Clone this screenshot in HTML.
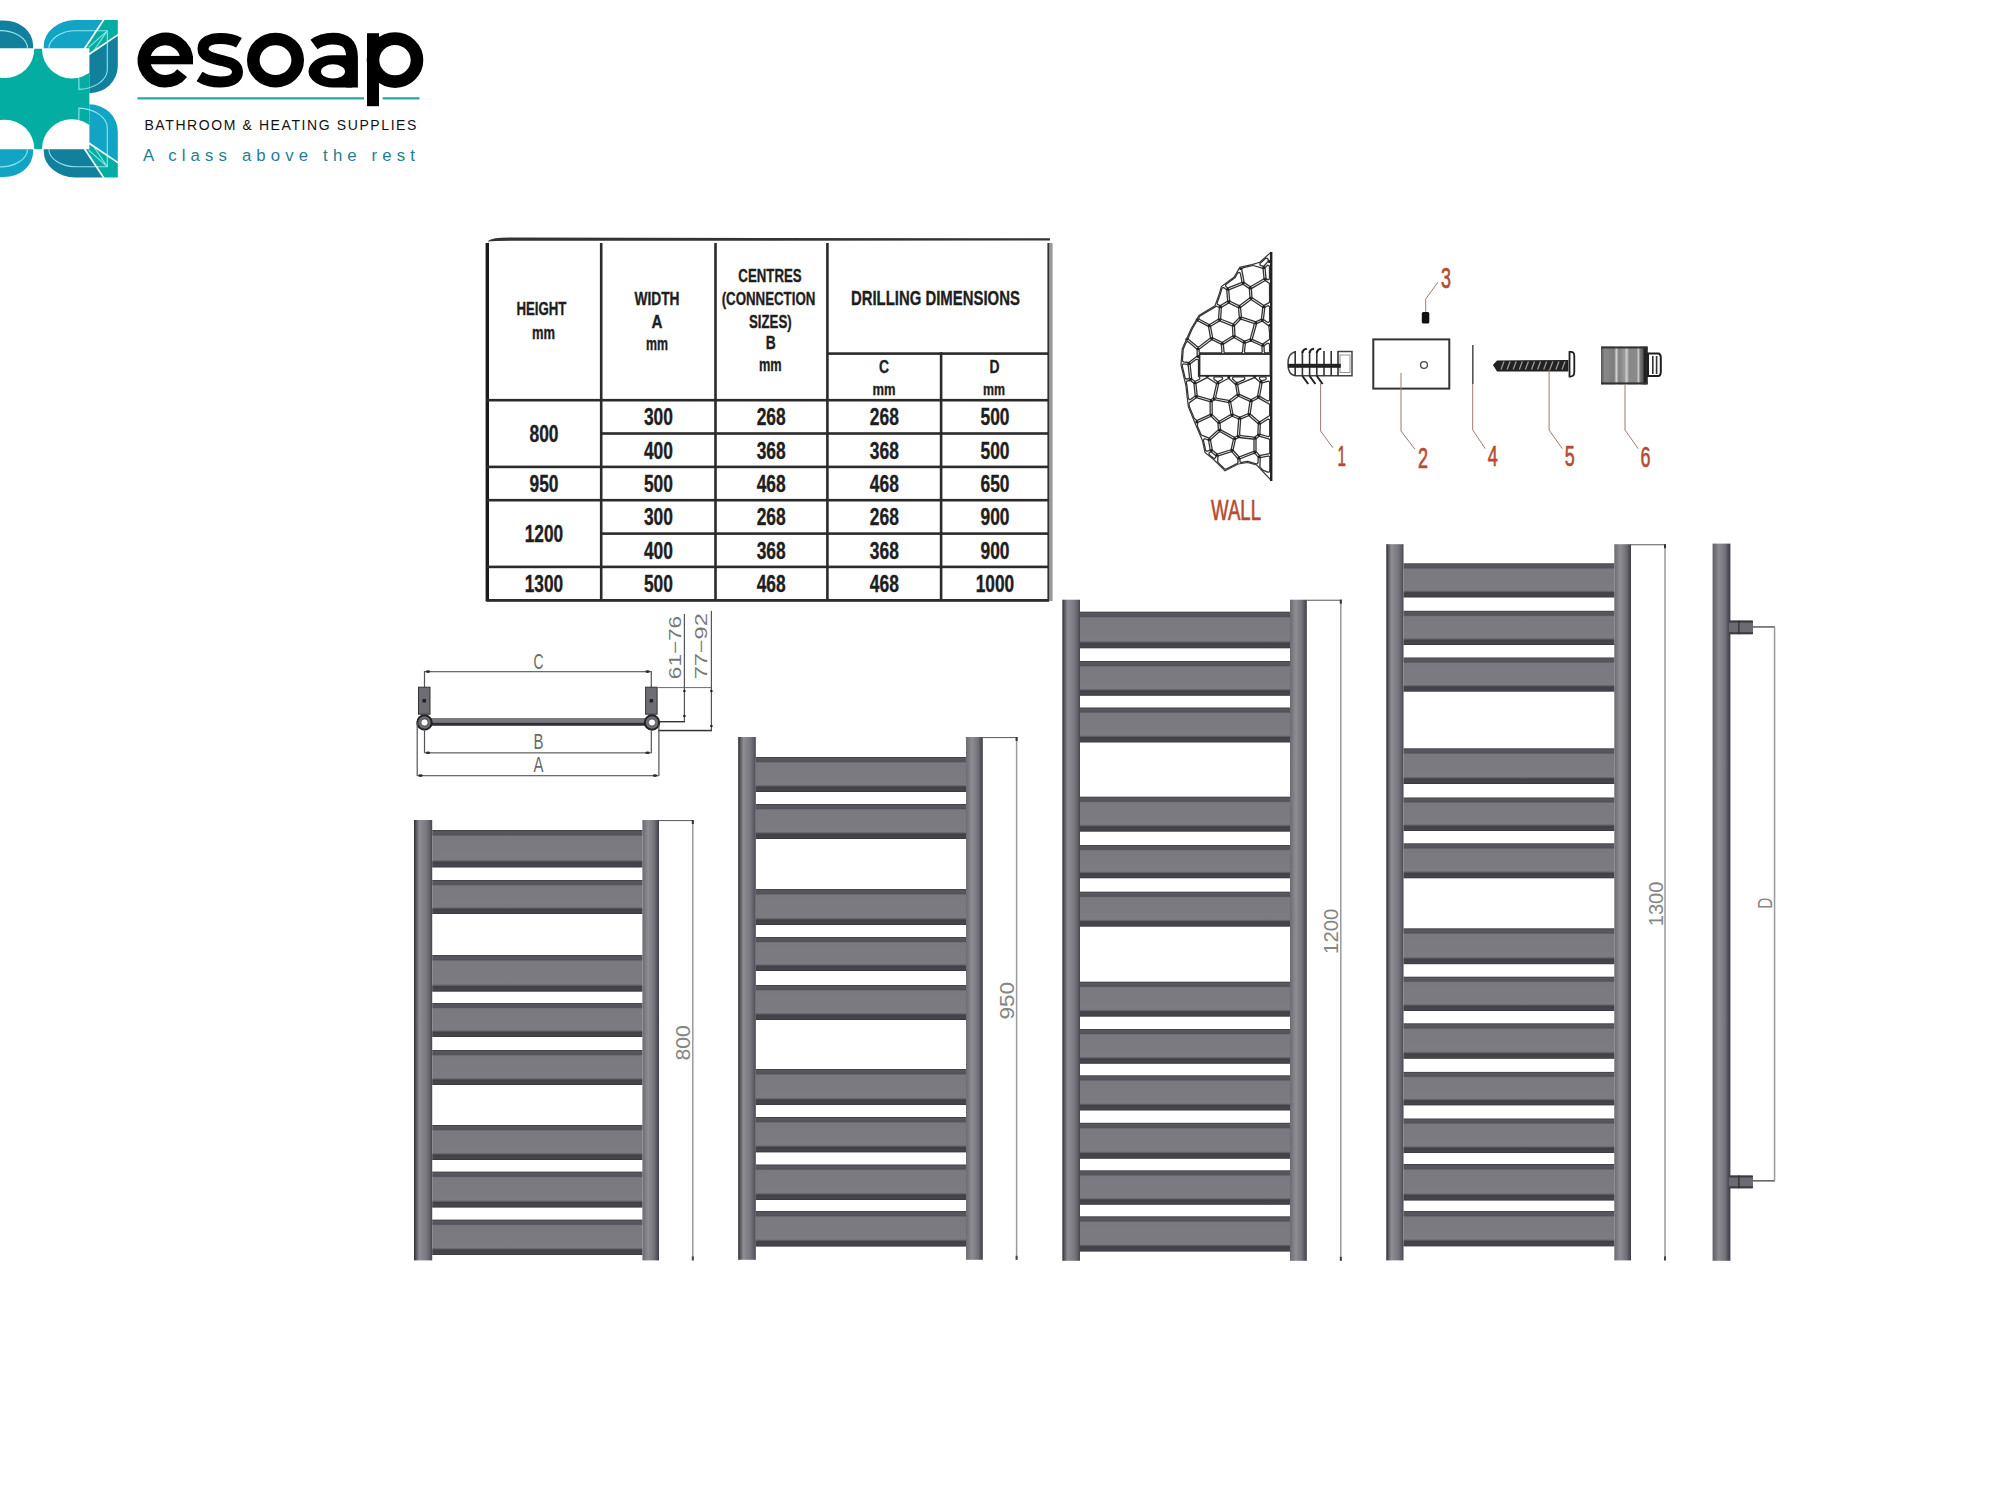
<!DOCTYPE html>
<html><head><meta charset="utf-8"><title>Radiator technical drawing</title>
<style>
html,body{margin:0;padding:0;background:#fff;width:2000px;height:1500px;overflow:hidden;font-family:"Liberation Sans",sans-serif;}
svg{position:absolute;left:0;top:0;display:block}
</style></head><body>
<svg width="2000" height="1500" viewBox="0 0 2000 1500" font-family="Liberation Sans">
<defs>
<linearGradient id="railL" x1="0" x2="1" y1="0" y2="0">
 <stop offset="0" stop-color="#26262c"/><stop offset="0.12" stop-color="#5a5a62"/><stop offset="0.3" stop-color="#8d8d93"/>
 <stop offset="0.7" stop-color="#77767d"/><stop offset="0.9" stop-color="#5c5b64"/><stop offset="1" stop-color="#45444c"/></linearGradient>
<linearGradient id="railR" x1="0" x2="1" y1="0" y2="0">
 <stop offset="0" stop-color="#6c6b72"/><stop offset="0.35" stop-color="#8d8d93"/><stop offset="0.7" stop-color="#747379"/>
 <stop offset="0.88" stop-color="#55545d"/><stop offset="1" stop-color="#3e3d46"/></linearGradient>
<linearGradient id="railS" x1="0" x2="1" y1="0" y2="0">
 <stop offset="0" stop-color="#5d5c63"/><stop offset="0.35" stop-color="#8b8a90"/><stop offset="0.7" stop-color="#75747b"/>
 <stop offset="0.85" stop-color="#55545c"/><stop offset="1" stop-color="#3c3b43"/></linearGradient>
<linearGradient id="bar" x1="0" x2="0" y1="0" y2="1">
 <stop offset="0" stop-color="#3e3d44"/><stop offset="0.05" stop-color="#5a5960"/><stop offset="0.13" stop-color="#535258"/><stop offset="0.17" stop-color="#7a797f"/>
 <stop offset="0.79" stop-color="#7c7b81"/><stop offset="0.82" stop-color="#66656b"/><stop offset="0.86" stop-color="#404046"/><stop offset="0.95" stop-color="#47464d"/><stop offset="1" stop-color="#38373e"/></linearGradient>
<linearGradient id="cyl" x1="0" x2="1" y1="0" y2="0">
 <stop offset="0" stop-color="#555"/><stop offset="0.08" stop-color="#8a8a8a"/><stop offset="0.28" stop-color="#7a7a7a"/><stop offset="0.33" stop-color="#d0d0d0"/><stop offset="0.38" stop-color="#808080"/>
 <stop offset="0.5" stop-color="#9a9a9a"/><stop offset="0.55" stop-color="#cfcfcf"/><stop offset="0.6" stop-color="#888"/><stop offset="0.76" stop-color="#8a8a8a"/><stop offset="0.8" stop-color="#c8c8c8"/><stop offset="0.84" stop-color="#777"/><stop offset="0.9" stop-color="#555"/><stop offset="0.92" stop-color="#1e1e1e"/><stop offset="1" stop-color="#2a2a2a"/></linearGradient>
</defs>
<rect width="2000" height="1500" fill="#fff"/>
<rect x="0" y="48.75" width="89.4" height="100.25" fill="#04ada2"/>
<circle cx="5" cy="48.75" r="29.3" fill="#fff"/>
<circle cx="71.8" cy="48.75" r="29.8" fill="#fff"/>
<circle cx="5" cy="149" r="29.3" fill="#fff"/>
<circle cx="71.8" cy="149" r="29.8" fill="#fff"/>
<g >
<path d="M0,20.5 L4,20.5 A29,25 0 0 1 33.1,45 L33.1,48.3 L0,48.3 Z" fill="#127f9d"/>
<path d="M0,30.6 A27.5,17.8 0 0 1 27.5,48.3" fill="none" stroke="#8fe6ee" stroke-width="1.1"/>
<path d="M43.75,48.3 L43.75,46 A32,26 0 0 1 75.5,20 L103.4,20 L84.2,48.3 Z" fill="#12a4c4"/>
<path d="M103.4,20 L117.8,20 L117.8,35 L89.4,53.8 L89.4,48.3 L84.2,48.3 Z" fill="#04ada2"/>
<path d="M89.4,53.8 L117.8,35 L117.8,66 A28.5,27 0 0 1 89.4,93.2 Z" fill="#127f9d"/>
<path d="M48.8,48.3 A27,18 0 0 1 75.5,30.8 L107.3,30.8 L107.3,70 A30,20 0 0 1 79,89.4 L78.8,77.8" fill="none" stroke="#8fe6ee" stroke-width="1.1"/>
<path d="M88.6,47.4 L107.3,30.8 L93.8,50.7" fill="none" stroke="#8fe6ee" stroke-width="1.1"/>
<path d="M104.2,19 L84,49.5" stroke="#fff" stroke-width="1.6" fill="none"/>
<path d="M119,34.2 L88.8,54.5" stroke="#fff" stroke-width="1.6" fill="none"/>
</g>
<g transform="translate(0,197.5) scale(1,-1)">
<path d="M0,20.5 L4,20.5 A29,25 0 0 1 33.1,45 L33.1,48.3 L0,48.3 Z" fill="#12a4c4"/>
<path d="M0,30.6 A27.5,17.8 0 0 1 27.5,48.3" fill="none" stroke="#8fe6ee" stroke-width="1.1"/>
<path d="M43.75,48.3 L43.75,46 A32,26 0 0 1 75.5,20 L103.4,20 L84.2,48.3 Z" fill="#127f9d"/>
<path d="M103.4,20 L117.8,20 L117.8,35 L89.4,53.8 L89.4,48.3 L84.2,48.3 Z" fill="#04ada2"/>
<path d="M89.4,53.8 L117.8,35 L117.8,66 A28.5,27 0 0 1 89.4,93.2 Z" fill="#12a4c4"/>
<path d="M48.8,48.3 A27,18 0 0 1 75.5,30.8 L107.3,30.8 L107.3,70 A30,20 0 0 1 79,89.4 L78.8,77.8" fill="none" stroke="#8fe6ee" stroke-width="1.1"/>
<path d="M88.6,47.4 L107.3,30.8 L93.8,50.7" fill="none" stroke="#8fe6ee" stroke-width="1.1"/>
<path d="M104.2,19 L84,49.5" stroke="#fff" stroke-width="1.6" fill="none"/>
<path d="M119,34.2 L88.8,54.5" stroke="#fff" stroke-width="1.6" fill="none"/>
</g>
<path d="M186.70000000000002,60.1 A21.4,21.1 0 1 0 182.16,73.09" fill="none" stroke="#000" stroke-width="12.6"/>
<rect x="143.9" y="55.9" width="49.099999999999994" height="8.4" fill="#000"/>
<path d="M239,42.8 C233.5,39.5 227,38.5 220.5,38.5 C210,38.5 203,42 203,49 C203,57 214,58.5 222,60.5 C232,63 237.5,65 237.5,72 C237.5,79 230,82 220,82 C212,82 205,80 199.5,76.5" fill="none" stroke="#000" stroke-width="11"/>
<ellipse cx="275.5" cy="60.1" rx="22.2" ry="21.1" fill="none" stroke="#000" stroke-width="12.6"/>
<path d="M314,44.5 C320,40 327,38.6 333,38.6 C345,38.6 352,44 352,57 L352,87.5" fill="none" stroke="#000" stroke-width="11.8"/>
<path d="M333,55.2 L352,55.2 L352,87.6 L333,87.6 A24.5,16.2 0 0 1 333,55.2 Z M333,64.3 A12,7.1 0 0 0 333,78.5 A12,7.1 0 0 0 333,64.3 Z" fill="#000" fill-rule="evenodd"/>
<rect x="367" y="33.2" width="12" height="73" fill="#000"/>
<ellipse cx="395" cy="60.1" rx="22" ry="21.5" fill="none" stroke="#000" stroke-width="12.6"/>
<rect x="137.5" y="97.2" width="226.5" height="2.3" fill="#2aa9a6"/>
<rect x="382.7" y="97.2" width="36.8" height="2.3" fill="#2aa9a6"/>
<text x="144.4" y="130.3" font-family="Liberation Sans" font-size="14" fill="#111" textLength="272" lengthAdjust="spacing">BATHROOM &amp; HEATING SUPPLIES</text>
<text x="143" y="160.7" font-family="Liberation Sans" font-size="16.8" fill="#1f7d96" textLength="272" lengthAdjust="spacing">A class above the rest</text>
<path d="M488,241 Q492,237.5 510,237.6 L1050,238.2 L1050,240.6 L510,240.8 Q494,241 488,241.5 Z" fill="#333"/>
<rect x="485.6" y="243" width="3.4" height="358.5" fill="#1a1a1a"/>
<rect x="1047.4" y="243" width="2.2" height="358" fill="#333"/>
<rect x="1049.6" y="243" width="3" height="358" fill="#9a9a9a"/>
<rect x="599.9000000000001" y="243" width="2.6" height="358" fill="#2b2b2b"/>
<rect x="714.2" y="243" width="2.6" height="358" fill="#2b2b2b"/>
<rect x="826.1" y="243" width="2.6" height="358" fill="#2b2b2b"/>
<rect x="939.8000000000001" y="352.3" width="2.6" height="248.8" fill="#2b2b2b"/>
<rect x="487" y="398.9" width="561" height="2.6" fill="#2b2b2b"/>
<rect x="487" y="599.0" width="562" height="2.8" fill="#2b2b2b"/>
<rect x="827.4" y="352.3" width="221" height="2.6" fill="#2b2b2b"/>
<rect x="601.2" y="432.2" width="447.20000000000005" height="2.6" fill="#2b2b2b"/>
<rect x="487" y="465.59999999999997" width="561.4000000000001" height="2.6" fill="#2b2b2b"/>
<rect x="487" y="498.9" width="561.4000000000001" height="2.6" fill="#2b2b2b"/>
<rect x="601.2" y="532.3000000000001" width="447.20000000000005" height="2.6" fill="#2b2b2b"/>
<rect x="487" y="565.6" width="561.4000000000001" height="2.6" fill="#2b2b2b"/>
<text x="541.4" y="314.6" font-family="Liberation Sans" font-weight="bold" font-size="18.6" fill="#1e1e1e" stroke="#1e1e1e" stroke-width="0.35" text-anchor="middle" textLength="50" lengthAdjust="spacingAndGlyphs">HEIGHT</text>
<text x="543.4" y="338.6" font-family="Liberation Sans" font-weight="bold" font-size="18" fill="#1e1e1e" stroke="#1e1e1e" stroke-width="0.35" text-anchor="middle" textLength="23" lengthAdjust="spacingAndGlyphs">mm</text>
<text x="657" y="305" font-family="Liberation Sans" font-weight="bold" font-size="18" fill="#1e1e1e" stroke="#1e1e1e" stroke-width="0.35" text-anchor="middle" textLength="45" lengthAdjust="spacingAndGlyphs">WIDTH</text>
<text x="657" y="328" font-family="Liberation Sans" font-weight="bold" font-size="18" fill="#1e1e1e" stroke="#1e1e1e" stroke-width="0.35" text-anchor="middle" textLength="11" lengthAdjust="spacingAndGlyphs">A</text>
<text x="657" y="350" font-family="Liberation Sans" font-weight="bold" font-size="18" fill="#1e1e1e" stroke="#1e1e1e" stroke-width="0.35" text-anchor="middle" textLength="22" lengthAdjust="spacingAndGlyphs">mm</text>
<text x="770" y="282" font-family="Liberation Sans" font-weight="bold" font-size="18" fill="#1e1e1e" stroke="#1e1e1e" stroke-width="0.35" text-anchor="middle" textLength="63.3" lengthAdjust="spacingAndGlyphs">CENTRES</text>
<text x="768.5" y="304.6" font-family="Liberation Sans" font-weight="bold" font-size="18" fill="#1e1e1e" stroke="#1e1e1e" stroke-width="0.35" text-anchor="middle" textLength="93.7" lengthAdjust="spacingAndGlyphs">(CONNECTION</text>
<text x="770.3" y="327.5" font-family="Liberation Sans" font-weight="bold" font-size="18" fill="#1e1e1e" stroke="#1e1e1e" stroke-width="0.35" text-anchor="middle" textLength="42.7" lengthAdjust="spacingAndGlyphs">SIZES)</text>
<text x="770.8" y="349.2" font-family="Liberation Sans" font-weight="bold" font-size="18" fill="#1e1e1e" stroke="#1e1e1e" stroke-width="0.35" text-anchor="middle" textLength="10" lengthAdjust="spacingAndGlyphs">B</text>
<text x="770.3" y="371.3" font-family="Liberation Sans" font-weight="bold" font-size="18" fill="#1e1e1e" stroke="#1e1e1e" stroke-width="0.35" text-anchor="middle" textLength="22.7" lengthAdjust="spacingAndGlyphs">mm</text>
<text x="935.4" y="305.2" font-family="Liberation Sans" font-weight="bold" font-size="20.5" fill="#1e1e1e" stroke="#1e1e1e" stroke-width="0.35" text-anchor="middle" textLength="168.9" lengthAdjust="spacingAndGlyphs">DRILLING DIMENSIONS</text>
<text x="884" y="373.4" font-family="Liberation Sans" font-weight="bold" font-size="17.5" fill="#1e1e1e" stroke="#1e1e1e" stroke-width="0.35" text-anchor="middle" textLength="10" lengthAdjust="spacingAndGlyphs">C</text>
<text x="884" y="394.9" font-family="Liberation Sans" font-weight="bold" font-size="16" fill="#1e1e1e" stroke="#1e1e1e" stroke-width="0.35" text-anchor="middle" textLength="23" lengthAdjust="spacingAndGlyphs">mm</text>
<text x="994.5" y="373.4" font-family="Liberation Sans" font-weight="bold" font-size="17.5" fill="#1e1e1e" stroke="#1e1e1e" stroke-width="0.35" text-anchor="middle" textLength="10" lengthAdjust="spacingAndGlyphs">D</text>
<text x="994" y="394.9" font-family="Liberation Sans" font-weight="bold" font-size="16" fill="#1e1e1e" stroke="#1e1e1e" stroke-width="0.35" text-anchor="middle" textLength="22" lengthAdjust="spacingAndGlyphs">mm</text>
<text x="658.4" y="425.35" font-family="Liberation Sans" font-weight="bold" font-size="23" fill="#1e1e1e" stroke="#1e1e1e" stroke-width="0.35" text-anchor="middle" textLength="29" lengthAdjust="spacingAndGlyphs">300</text>
<text x="771.2" y="425.35" font-family="Liberation Sans" font-weight="bold" font-size="23" fill="#1e1e1e" stroke="#1e1e1e" stroke-width="0.35" text-anchor="middle" textLength="29" lengthAdjust="spacingAndGlyphs">268</text>
<text x="884.3" y="425.35" font-family="Liberation Sans" font-weight="bold" font-size="23" fill="#1e1e1e" stroke="#1e1e1e" stroke-width="0.35" text-anchor="middle" textLength="29" lengthAdjust="spacingAndGlyphs">268</text>
<text x="995" y="425.35" font-family="Liberation Sans" font-weight="bold" font-size="23" fill="#1e1e1e" stroke="#1e1e1e" stroke-width="0.35" text-anchor="middle" textLength="29" lengthAdjust="spacingAndGlyphs">500</text>
<text x="658.4" y="458.7" font-family="Liberation Sans" font-weight="bold" font-size="23" fill="#1e1e1e" stroke="#1e1e1e" stroke-width="0.35" text-anchor="middle" textLength="29" lengthAdjust="spacingAndGlyphs">400</text>
<text x="771.2" y="458.7" font-family="Liberation Sans" font-weight="bold" font-size="23" fill="#1e1e1e" stroke="#1e1e1e" stroke-width="0.35" text-anchor="middle" textLength="29" lengthAdjust="spacingAndGlyphs">368</text>
<text x="884.3" y="458.7" font-family="Liberation Sans" font-weight="bold" font-size="23" fill="#1e1e1e" stroke="#1e1e1e" stroke-width="0.35" text-anchor="middle" textLength="29" lengthAdjust="spacingAndGlyphs">368</text>
<text x="995" y="458.7" font-family="Liberation Sans" font-weight="bold" font-size="23" fill="#1e1e1e" stroke="#1e1e1e" stroke-width="0.35" text-anchor="middle" textLength="29" lengthAdjust="spacingAndGlyphs">500</text>
<text x="658.4" y="492.04999999999995" font-family="Liberation Sans" font-weight="bold" font-size="23" fill="#1e1e1e" stroke="#1e1e1e" stroke-width="0.35" text-anchor="middle" textLength="29" lengthAdjust="spacingAndGlyphs">500</text>
<text x="771.2" y="492.04999999999995" font-family="Liberation Sans" font-weight="bold" font-size="23" fill="#1e1e1e" stroke="#1e1e1e" stroke-width="0.35" text-anchor="middle" textLength="29" lengthAdjust="spacingAndGlyphs">468</text>
<text x="884.3" y="492.04999999999995" font-family="Liberation Sans" font-weight="bold" font-size="23" fill="#1e1e1e" stroke="#1e1e1e" stroke-width="0.35" text-anchor="middle" textLength="29" lengthAdjust="spacingAndGlyphs">468</text>
<text x="995" y="492.04999999999995" font-family="Liberation Sans" font-weight="bold" font-size="23" fill="#1e1e1e" stroke="#1e1e1e" stroke-width="0.35" text-anchor="middle" textLength="29" lengthAdjust="spacingAndGlyphs">650</text>
<text x="658.4" y="525.4" font-family="Liberation Sans" font-weight="bold" font-size="23" fill="#1e1e1e" stroke="#1e1e1e" stroke-width="0.35" text-anchor="middle" textLength="29" lengthAdjust="spacingAndGlyphs">300</text>
<text x="771.2" y="525.4" font-family="Liberation Sans" font-weight="bold" font-size="23" fill="#1e1e1e" stroke="#1e1e1e" stroke-width="0.35" text-anchor="middle" textLength="29" lengthAdjust="spacingAndGlyphs">268</text>
<text x="884.3" y="525.4" font-family="Liberation Sans" font-weight="bold" font-size="23" fill="#1e1e1e" stroke="#1e1e1e" stroke-width="0.35" text-anchor="middle" textLength="29" lengthAdjust="spacingAndGlyphs">268</text>
<text x="995" y="525.4" font-family="Liberation Sans" font-weight="bold" font-size="23" fill="#1e1e1e" stroke="#1e1e1e" stroke-width="0.35" text-anchor="middle" textLength="29" lengthAdjust="spacingAndGlyphs">900</text>
<text x="658.4" y="558.75" font-family="Liberation Sans" font-weight="bold" font-size="23" fill="#1e1e1e" stroke="#1e1e1e" stroke-width="0.35" text-anchor="middle" textLength="29" lengthAdjust="spacingAndGlyphs">400</text>
<text x="771.2" y="558.75" font-family="Liberation Sans" font-weight="bold" font-size="23" fill="#1e1e1e" stroke="#1e1e1e" stroke-width="0.35" text-anchor="middle" textLength="29" lengthAdjust="spacingAndGlyphs">368</text>
<text x="884.3" y="558.75" font-family="Liberation Sans" font-weight="bold" font-size="23" fill="#1e1e1e" stroke="#1e1e1e" stroke-width="0.35" text-anchor="middle" textLength="29" lengthAdjust="spacingAndGlyphs">368</text>
<text x="995" y="558.75" font-family="Liberation Sans" font-weight="bold" font-size="23" fill="#1e1e1e" stroke="#1e1e1e" stroke-width="0.35" text-anchor="middle" textLength="29" lengthAdjust="spacingAndGlyphs">900</text>
<text x="658.4" y="592.0999999999999" font-family="Liberation Sans" font-weight="bold" font-size="23" fill="#1e1e1e" stroke="#1e1e1e" stroke-width="0.35" text-anchor="middle" textLength="29" lengthAdjust="spacingAndGlyphs">500</text>
<text x="771.2" y="592.0999999999999" font-family="Liberation Sans" font-weight="bold" font-size="23" fill="#1e1e1e" stroke="#1e1e1e" stroke-width="0.35" text-anchor="middle" textLength="29" lengthAdjust="spacingAndGlyphs">468</text>
<text x="884.3" y="592.0999999999999" font-family="Liberation Sans" font-weight="bold" font-size="23" fill="#1e1e1e" stroke="#1e1e1e" stroke-width="0.35" text-anchor="middle" textLength="29" lengthAdjust="spacingAndGlyphs">468</text>
<text x="995" y="592.0999999999999" font-family="Liberation Sans" font-weight="bold" font-size="23" fill="#1e1e1e" stroke="#1e1e1e" stroke-width="0.35" text-anchor="middle" textLength="38.5" lengthAdjust="spacingAndGlyphs">1000</text>
<text x="544" y="442.04999999999995" font-family="Liberation Sans" font-weight="bold" font-size="23" fill="#1e1e1e" stroke="#1e1e1e" stroke-width="0.35" text-anchor="middle" textLength="29" lengthAdjust="spacingAndGlyphs">800</text>
<text x="544" y="492.04999999999995" font-family="Liberation Sans" font-weight="bold" font-size="23" fill="#1e1e1e" stroke="#1e1e1e" stroke-width="0.35" text-anchor="middle" textLength="29" lengthAdjust="spacingAndGlyphs">950</text>
<text x="544" y="542.05" font-family="Liberation Sans" font-weight="bold" font-size="23" fill="#1e1e1e" stroke="#1e1e1e" stroke-width="0.35" text-anchor="middle" textLength="38.5" lengthAdjust="spacingAndGlyphs">1200</text>
<text x="544" y="592.0999999999999" font-family="Liberation Sans" font-weight="bold" font-size="23" fill="#1e1e1e" stroke="#1e1e1e" stroke-width="0.35" text-anchor="middle" textLength="38.5" lengthAdjust="spacingAndGlyphs">1300</text>
<rect x="424.5" y="671" width="227" height="1.3" fill="#6a6a6a"/>
<rect x="423.9" y="671" width="1.2" height="16.5" fill="#555"/>
<rect x="650.7" y="671" width="1.2" height="16.5" fill="#555"/>
<rect x="418.5" y="687.2" width="11.5" height="27" fill="#6e6d73" stroke="#333" stroke-width="1"/>
<rect x="422.5" y="699" width="3.5" height="3.5" fill="#222"/>
<rect x="645.6" y="687.2" width="11.5" height="27" fill="#6e6d73" stroke="#333" stroke-width="1"/>
<rect x="649.6" y="699" width="3.5" height="3.5" fill="#222"/>
<rect x="430" y="718" width="215" height="7.6" fill="#7a797f"/>
<rect x="430" y="722.8" width="215" height="2.8" fill="#2e2e33"/>
<circle cx="424.5" cy="722.5" r="7.2" fill="#6e6d73" stroke="#222" stroke-width="2"/>
<circle cx="424.5" cy="722.5" r="3.6" fill="#fff" stroke="#444" stroke-width="0.8"/>
<circle cx="652" cy="722.5" r="7.2" fill="#6e6d73" stroke="#222" stroke-width="2"/>
<circle cx="652" cy="722.5" r="3.6" fill="#fff" stroke="#444" stroke-width="0.8"/>
<rect x="657" y="687" width="55" height="1.1" fill="#777"/>
<rect x="683.8" y="614" width="1.2" height="108" fill="#555"/>
<rect x="659.6" y="721" width="25.4" height="1.4" fill="#333"/>
<rect x="710.8" y="610.8" width="1.2" height="120" fill="#555"/>
<rect x="658" y="729.8" width="54" height="1.5" fill="#333"/>
<circle cx="684.4" cy="691" r="1.3" fill="#222"/>
<circle cx="684.4" cy="716" r="1.3" fill="#222"/>
<circle cx="711.4" cy="691" r="1.3" fill="#222"/>
<circle cx="711.4" cy="726" r="1.3" fill="#222"/>
<rect x="423.9" y="731" width="1.2" height="22" fill="#555"/>
<rect x="650.7" y="731" width="1.2" height="22" fill="#555"/>
<rect x="424.5" y="752.2" width="227" height="1.3" fill="#6a6a6a"/>
<rect x="416.6" y="722" width="1.2" height="54" fill="#555"/>
<rect x="658.3" y="725" width="1.2" height="51" fill="#555"/>
<rect x="417" y="775" width="242" height="1.3" fill="#6a6a6a"/>
<ellipse cx="428" cy="671.6" rx="2.2" ry="1.3" fill="#2a2a2a"/>
<ellipse cx="647.5" cy="671.6" rx="2.2" ry="1.3" fill="#2a2a2a"/>
<ellipse cx="428" cy="752.8" rx="2.2" ry="1.3" fill="#2a2a2a"/>
<ellipse cx="647.5" cy="752.8" rx="2.2" ry="1.3" fill="#2a2a2a"/>
<ellipse cx="420.5" cy="775.6" rx="2.2" ry="1.3" fill="#2a2a2a"/>
<ellipse cx="655" cy="775.6" rx="2.2" ry="1.3" fill="#2a2a2a"/>
<text x="538.5" y="668.5" font-family="Liberation Sans" font-size="21.5" fill="#6a6a6a" text-anchor="middle" textLength="10" lengthAdjust="spacingAndGlyphs">C</text>
<text x="538.5" y="749.3" font-family="Liberation Sans" font-size="21.5" fill="#6a6a6a" text-anchor="middle" textLength="10" lengthAdjust="spacingAndGlyphs">B</text>
<text x="538.5" y="772.4" font-family="Liberation Sans" font-size="21.5" fill="#6a6a6a" text-anchor="middle" textLength="10" lengthAdjust="spacingAndGlyphs">A</text>
<text transform="translate(680.5,647.5) rotate(-90)" font-family="Liberation Sans" font-size="17" fill="#777" text-anchor="middle" textLength="63.3" lengthAdjust="spacingAndGlyphs">61−76</text>
<text transform="translate(707,646.3) rotate(-90)" font-family="Liberation Sans" font-size="17" fill="#777" text-anchor="middle" textLength="66" lengthAdjust="spacingAndGlyphs">77−92</text>
<rect x="414" y="820" width="18.19999999999999" height="440.4000000000001" fill="url(#railL)"/>
<rect x="642.4" y="820" width="16.600000000000023" height="440.4000000000001" fill="url(#railR)"/>
<rect x="432.2" y="830" width="210.2" height="37.5" fill="url(#bar)"/>
<rect x="432.2" y="880" width="210.2" height="34" fill="url(#bar)"/>
<rect x="432.2" y="955" width="210.2" height="36.700000000000045" fill="url(#bar)"/>
<rect x="432.2" y="1003" width="210.2" height="34" fill="url(#bar)"/>
<rect x="432.2" y="1050" width="210.2" height="35" fill="url(#bar)"/>
<rect x="432.2" y="1125" width="210.2" height="35" fill="url(#bar)"/>
<rect x="432.2" y="1171.6" width="210.2" height="36.0" fill="url(#bar)"/>
<rect x="432.2" y="1219.6" width="210.2" height="35.40000000000009" fill="url(#bar)"/>
<rect x="659" y="820" width="34.399999999999956" height="1.1" fill="#666"/>
<rect x="692.05" y="820" width="1.5" height="440.4000000000001" fill="#9a9a9a"/>
<rect x="691.8" y="820" width="2" height="4" fill="#333"/>
<rect x="691.8" y="1256.4" width="2" height="4" fill="#444"/>
<text transform="translate(690,1042.8) rotate(-90)" font-family="Liberation Sans" font-size="20" fill="#858585" text-anchor="middle" textLength="35.2" lengthAdjust="spacingAndGlyphs">800</text>
<rect x="738.2" y="737" width="17.59999999999991" height="522.8" fill="url(#railL)"/>
<rect x="966" y="737" width="16.799999999999955" height="522.8" fill="url(#railR)"/>
<rect x="755.8" y="757" width="210.20000000000005" height="35" fill="url(#bar)"/>
<rect x="755.8" y="804" width="210.20000000000005" height="35" fill="url(#bar)"/>
<rect x="755.8" y="889" width="210.20000000000005" height="36" fill="url(#bar)"/>
<rect x="755.8" y="937" width="210.20000000000005" height="34" fill="url(#bar)"/>
<rect x="755.8" y="985" width="210.20000000000005" height="35" fill="url(#bar)"/>
<rect x="755.8" y="1069" width="210.20000000000005" height="36" fill="url(#bar)"/>
<rect x="755.8" y="1117" width="210.20000000000005" height="35.40000000000009" fill="url(#bar)"/>
<rect x="755.8" y="1164.5" width="210.20000000000005" height="35.5" fill="url(#bar)"/>
<rect x="755.8" y="1211" width="210.20000000000005" height="35.59999999999991" fill="url(#bar)"/>
<rect x="982.8" y="737" width="34.40000000000007" height="1.1" fill="#666"/>
<rect x="1015.85" y="737" width="1.5" height="522.8" fill="#9a9a9a"/>
<rect x="1015.6" y="737" width="2" height="4" fill="#333"/>
<rect x="1015.6" y="1255.8" width="2" height="4" fill="#444"/>
<text transform="translate(1013.8,1000.8) rotate(-90)" font-family="Liberation Sans" font-size="20" fill="#858585" text-anchor="middle" textLength="37.6" lengthAdjust="spacingAndGlyphs">950</text>
<rect x="1062.4" y="599.7" width="17.59999999999991" height="661.0999999999999" fill="url(#railL)"/>
<rect x="1290" y="599.7" width="16.799999999999955" height="661.0999999999999" fill="url(#railR)"/>
<rect x="1080" y="611.7" width="210" height="36.59999999999991" fill="url(#bar)"/>
<rect x="1080" y="661" width="210" height="34.799999999999955" fill="url(#bar)"/>
<rect x="1080" y="707.5" width="210" height="35.0" fill="url(#bar)"/>
<rect x="1080" y="796.7" width="210" height="35.0" fill="url(#bar)"/>
<rect x="1080" y="845" width="210" height="33.299999999999955" fill="url(#bar)"/>
<rect x="1080" y="891.7" width="210" height="35.0" fill="url(#bar)"/>
<rect x="1080" y="981.7" width="210" height="35.0" fill="url(#bar)"/>
<rect x="1080" y="1029" width="210" height="34.799999999999955" fill="url(#bar)"/>
<rect x="1080" y="1075.3" width="210" height="35.200000000000045" fill="url(#bar)"/>
<rect x="1080" y="1122.8" width="210" height="36.0" fill="url(#bar)"/>
<rect x="1080" y="1170.3" width="210" height="34.5" fill="url(#bar)"/>
<rect x="1080" y="1216.3" width="210" height="35.299999999999955" fill="url(#bar)"/>
<rect x="1306.8" y="599.7" width="34.6" height="1.1" fill="#666"/>
<rect x="1340.05" y="599.7" width="1.5" height="661.0999999999999" fill="#9a9a9a"/>
<rect x="1339.8" y="599.7" width="2" height="4" fill="#333"/>
<rect x="1339.8" y="1256.8" width="2" height="4" fill="#444"/>
<text transform="translate(1338,931.3) rotate(-90)" font-family="Liberation Sans" font-size="20" fill="#858585" text-anchor="middle" textLength="45.3" lengthAdjust="spacingAndGlyphs">1200</text>
<rect x="1386.3" y="544.2" width="17.200000000000045" height="716.2" fill="url(#railL)"/>
<rect x="1614.3" y="544.2" width="16.700000000000045" height="716.2" fill="url(#railR)"/>
<rect x="1403.5" y="563.3" width="210.79999999999995" height="34.200000000000045" fill="url(#bar)"/>
<rect x="1403.5" y="610.8" width="210.79999999999995" height="34.200000000000045" fill="url(#bar)"/>
<rect x="1403.5" y="657.5" width="210.79999999999995" height="34.200000000000045" fill="url(#bar)"/>
<rect x="1403.5" y="748.3" width="210.79999999999995" height="35.700000000000045" fill="url(#bar)"/>
<rect x="1403.5" y="797.5" width="210.79999999999995" height="33.5" fill="url(#bar)"/>
<rect x="1403.5" y="843.3" width="210.79999999999995" height="35.0" fill="url(#bar)"/>
<rect x="1403.5" y="928.3" width="210.79999999999995" height="35.90000000000009" fill="url(#bar)"/>
<rect x="1403.5" y="976.7" width="210.79999999999995" height="34.299999999999955" fill="url(#bar)"/>
<rect x="1403.5" y="1023.3" width="210.79999999999995" height="35.5" fill="url(#bar)"/>
<rect x="1403.5" y="1071.9" width="210.79999999999995" height="33.5" fill="url(#bar)"/>
<rect x="1403.5" y="1118.5" width="210.79999999999995" height="34.5" fill="url(#bar)"/>
<rect x="1403.5" y="1164" width="210.79999999999995" height="36.59999999999991" fill="url(#bar)"/>
<rect x="1403.5" y="1211" width="210.79999999999995" height="35.40000000000009" fill="url(#bar)"/>
<rect x="1631" y="544.2" width="34.6" height="1.1" fill="#666"/>
<rect x="1664.25" y="544.2" width="1.5" height="716.2" fill="#9a9a9a"/>
<rect x="1664" y="544.2" width="2" height="4" fill="#333"/>
<rect x="1664" y="1256.4" width="2" height="4" fill="#444"/>
<text transform="translate(1662.7,903.9) rotate(-90)" font-family="Liberation Sans" font-size="20" fill="#858585" text-anchor="middle" textLength="44.8" lengthAdjust="spacingAndGlyphs">1300</text>
<rect x="1712.6" y="543.6" width="17.8" height="717.2" fill="url(#railS)"/>
<rect x="1729" y="620.6" width="24" height="13.600000000000023" rx="2" fill="#6c6b72"/>
<rect x="1729" y="620.6" width="24" height="2" fill="#3c3b42"/>
<rect x="1729" y="632.2" width="24" height="2" fill="#3c3b42"/>
<rect x="1738.2" y="620.6" width="1.3" height="13.600000000000023" fill="#2e2e33"/>
<rect x="1753" y="626.3" width="22" height="1.3" fill="#444"/>
<rect x="1729" y="1175.5" width="24" height="12.799999999999955" rx="2" fill="#6c6b72"/>
<rect x="1729" y="1175.5" width="24" height="2" fill="#3c3b42"/>
<rect x="1729" y="1186.3" width="24" height="2" fill="#3c3b42"/>
<rect x="1738.2" y="1175.5" width="1.3" height="12.799999999999955" fill="#2e2e33"/>
<rect x="1753" y="1180.2" width="22" height="1.3" fill="#444"/>
<rect x="1773.8" y="626.9" width="1.5" height="554" fill="#9a9a9a"/>
<text transform="translate(1771.8,903.3) rotate(-90)" font-family="Liberation Sans" font-size="20" fill="#858585" text-anchor="middle" textLength="11.1" lengthAdjust="spacingAndGlyphs">D</text>
<path d="M1270.5,252.6 L1259.8,262.2 L1251.8,264.6 L1239.8,267.4 L1234.2,277 L1221.4,286.6 L1219,294.6 L1215,305.8 L1199,315.4 L1191,329 L1182.2,349 L1181,365 L1185.8,385 L1188.3,406.7 L1195.8,425 L1202.5,440.8 L1205,452.5 L1214.2,460 L1225,470.8 L1238.3,464 L1247.5,462.5 L1256.7,465 L1270.8,480 Z" fill="#fff"/>
<g>
<path d="M1260.5,262.9 L1260.4,263.0 L1260.3,263.1 L1260.2,263.2 L1260.1,263.4 L1260.0,263.5 L1260.0,263.7 L1260.0,263.8 L1259.9,264.0 L1259.9,264.1 L1259.9,264.3 L1259.9,264.5 L1260.0,264.6 L1260.0,264.8 L1260.1,264.9 L1260.2,265.0 L1260.3,265.2 L1260.4,265.3 L1260.5,265.4 L1260.6,265.5 L1260.8,265.6 L1260.9,265.6 L1261.1,265.7 L1262.6,266.2 L1262.8,266.2 L1262.9,266.2 L1263.1,266.2 L1263.2,266.2 L1263.4,266.2 L1263.5,266.2 L1263.7,266.1 L1263.8,266.0 L1263.9,266.0 L1264.1,265.9 L1264.2,265.8 L1264.3,265.7 L1267.8,261.6 L1267.9,261.5 L1268.0,261.3 L1268.0,261.2 L1268.1,261.0 L1268.1,260.9 L1268.2,260.7 L1268.2,260.5 L1268.2,260.4 L1268.1,259.5 L1268.0,259.4 L1268.0,259.2 L1267.9,259.1 L1267.9,258.9 L1267.8,258.8 L1267.7,258.7 L1267.6,258.5 L1267.5,258.4 L1267.3,258.4 L1267.2,258.3 L1267.0,258.2 L1266.9,258.2 L1266.7,258.1 L1266.6,258.1 L1266.4,258.1 L1266.3,258.1 L1266.1,258.2 L1265.9,258.2 L1265.8,258.3 L1265.7,258.3 L1265.5,258.4 L1265.4,258.5 L1260.5,262.9 L1260.5,262.9Z" fill="#fff" stroke="#333" stroke-width="1.3"/>
<path d="M1227.1,287.5 L1227.3,287.6 L1227.4,287.7 L1227.6,287.8 L1227.7,287.8 L1227.9,287.8 L1228.0,287.8 L1228.2,287.8 L1228.4,287.8 L1228.5,287.8 L1228.7,287.7 L1240.8,282.9 L1241.0,282.9 L1241.1,282.8 L1241.3,282.7 L1241.4,282.6 L1241.5,282.5 L1241.6,282.3 L1241.7,282.2 L1241.7,282.1 L1241.8,281.9 L1241.8,281.8 L1241.8,281.6 L1241.9,281.5 L1241.9,281.3 L1241.8,281.1 L1240.5,273.8 L1240.4,273.7 L1240.4,273.5 L1240.3,273.4 L1240.2,273.3 L1240.1,273.1 L1240.0,273.0 L1239.9,272.9 L1239.8,272.8 L1239.7,272.7 L1239.5,272.7 L1239.4,272.6 L1239.2,272.6 L1239.1,272.5 L1238.9,272.5 L1238.8,272.5 L1238.6,272.6 L1238.5,272.6 L1238.3,272.6 L1238.2,272.7 L1238.0,272.8 L1237.9,272.9 L1237.8,273.0 L1237.7,273.1 L1237.6,273.2 L1237.5,273.3 L1235.1,277.5 L1235.0,277.6 L1234.9,277.7 L1234.9,277.7 L1234.8,277.8 L1226.2,284.3 L1226.1,284.4 L1225.9,284.5 L1225.8,284.6 L1225.8,284.7 L1225.7,284.9 L1225.6,285.0 L1225.6,285.2 L1225.6,285.3 L1225.5,285.5 L1225.5,285.6 L1225.6,285.8 L1225.6,285.9 L1225.6,286.1 L1225.7,286.2 L1225.8,286.4 L1225.9,286.5 L1226.0,286.6 L1226.1,286.7 L1226.2,286.8 L1227.1,287.5Z" fill="#fff" stroke="#333" stroke-width="1.3"/>
<path d="M1263.2,279.3 L1263.3,279.2 L1263.4,279.2 L1263.5,279.0 L1263.6,278.9 L1263.7,278.8 L1263.8,278.7 L1263.9,278.5 L1263.9,278.4 L1263.9,278.2 L1264.0,278.1 L1264.0,277.9 L1264.0,277.8 L1263.1,269.4 L1263.1,269.3 L1263.1,269.1 L1263.0,269.0 L1262.9,268.8 L1262.9,268.7 L1262.8,268.6 L1262.7,268.5 L1262.5,268.3 L1262.4,268.3 L1262.3,268.2 L1262.1,268.1 L1262.0,268.1 L1253.4,265.5 L1253.2,265.4 L1253.1,265.4 L1252.9,265.4 L1252.7,265.4 L1252.6,265.4 L1252.4,265.5 L1252.1,265.6 L1252.0,265.6 L1243.6,267.5 L1243.4,267.6 L1243.3,267.6 L1243.2,267.7 L1243.0,267.8 L1242.9,267.9 L1242.3,268.4 L1242.2,268.5 L1242.1,268.6 L1242.0,268.7 L1241.9,268.9 L1241.9,269.0 L1241.8,269.1 L1241.8,269.3 L1241.7,269.4 L1241.7,269.6 L1241.7,269.8 L1241.8,269.9 L1244.0,281.8 L1244.0,282.0 L1244.1,282.1 L1244.1,282.3 L1244.2,282.4 L1244.3,282.5 L1244.4,282.7 L1244.5,282.8 L1244.7,282.9 L1249.6,286.3 L1249.7,286.3 L1249.8,286.4 L1250.0,286.5 L1250.1,286.5 L1250.3,286.5 L1250.4,286.5 L1250.6,286.5 L1250.7,286.5 L1250.9,286.5 L1251.0,286.4 L1251.1,286.4 L1251.3,286.3 L1263.2,279.3Z" fill="#fff" stroke="#333" stroke-width="1.3"/>
<path d="M1269.5,267.0 L1269.5,266.8 L1269.5,266.7 L1269.5,266.5 L1269.4,266.4 L1269.3,266.2 L1269.3,266.1 L1269.2,266.0 L1269.1,265.8 L1268.9,265.7 L1268.8,265.6 L1268.7,265.6 L1268.5,265.5 L1268.4,265.4 L1268.3,265.4 L1268.1,265.4 L1267.9,265.4 L1267.8,265.4 L1267.6,265.4 L1267.5,265.4 L1267.3,265.5 L1267.2,265.5 L1267.1,265.6 L1266.9,265.7 L1266.8,265.8 L1266.7,265.9 L1265.4,267.4 L1265.3,267.5 L1265.2,267.7 L1265.2,267.8 L1265.1,268.0 L1265.1,268.1 L1265.1,268.3 L1265.0,268.4 L1265.1,268.6 L1266.0,278.0 L1266.0,278.2 L1266.1,278.3 L1266.1,278.5 L1266.2,278.6 L1266.3,278.7 L1266.4,278.9 L1266.5,279.0 L1266.6,279.1 L1266.7,279.2 L1267.1,279.4 L1267.2,279.5 L1267.4,279.5 L1267.5,279.6 L1267.7,279.6 L1267.8,279.7 L1268.0,279.7 L1268.1,279.6 L1268.3,279.6 L1268.4,279.6 L1268.6,279.5 L1268.7,279.5 L1268.8,279.4 L1269.0,279.3 L1269.1,279.2 L1269.2,279.1 L1269.3,278.9 L1269.3,278.8 L1269.4,278.7 L1269.5,278.5 L1269.5,278.4 L1269.5,278.2 L1269.5,278.1 L1269.5,267.0Z" fill="#fff" stroke="#333" stroke-width="1.3"/>
<path d="M1219.5,305.4 L1219.7,305.4 L1219.8,305.5 L1220.0,305.5 L1220.1,305.5 L1220.3,305.5 L1220.4,305.5 L1220.6,305.5 L1220.7,305.4 L1220.9,305.4 L1221.0,305.3 L1226.8,301.7 L1227.0,301.7 L1227.1,301.6 L1227.2,301.4 L1227.3,301.3 L1227.4,301.2 L1227.5,301.0 L1227.5,300.9 L1227.6,300.7 L1227.6,300.6 L1227.6,300.4 L1227.6,300.2 L1226.8,290.4 L1226.8,290.3 L1226.7,290.2 L1226.7,290.0 L1226.6,289.9 L1226.6,289.7 L1226.5,289.6 L1226.4,289.5 L1226.3,289.4 L1226.1,289.3 L1224.3,287.9 L1224.2,287.8 L1224.0,287.8 L1223.9,287.7 L1223.7,287.7 L1223.6,287.6 L1223.4,287.6 L1223.3,287.6 L1223.1,287.6 L1223.0,287.6 L1222.8,287.7 L1222.7,287.7 L1222.5,287.8 L1222.4,287.9 L1222.3,288.0 L1222.2,288.1 L1222.1,288.2 L1222.0,288.3 L1221.9,288.5 L1221.9,288.6 L1221.8,288.7 L1220.0,294.9 L1219.9,295.0 L1217.2,302.7 L1217.1,302.9 L1217.1,303.0 L1217.1,303.2 L1217.1,303.3 L1217.1,303.5 L1217.1,303.7 L1217.2,303.8 L1217.2,304.0 L1217.3,304.1 L1217.4,304.2 L1217.5,304.4 L1217.6,304.5 L1217.7,304.6 L1217.9,304.7 L1218.0,304.7 L1219.5,305.4Z" fill="#fff" stroke="#333" stroke-width="1.3"/>
<path d="M1238.4,305.4 L1238.6,305.5 L1238.8,305.5 L1238.9,305.5 L1239.1,305.6 L1239.2,305.6 L1239.4,305.5 L1239.5,305.5 L1239.7,305.5 L1239.8,305.4 L1240.0,305.3 L1240.1,305.2 L1249.2,298.3 L1249.4,298.2 L1249.5,298.1 L1249.6,298.0 L1249.7,297.8 L1249.7,297.7 L1249.8,297.6 L1249.8,297.4 L1249.9,297.2 L1249.9,297.1 L1249.9,296.9 L1249.4,289.3 L1249.4,289.2 L1249.4,289.0 L1249.3,288.9 L1249.3,288.7 L1249.2,288.6 L1249.1,288.5 L1249.0,288.3 L1248.9,288.2 L1248.7,288.1 L1243.8,284.7 L1243.6,284.6 L1243.5,284.5 L1243.4,284.5 L1243.2,284.4 L1243.1,284.4 L1242.9,284.4 L1242.7,284.4 L1242.6,284.4 L1242.4,284.5 L1242.3,284.5 L1229.9,289.4 L1229.7,289.5 L1229.6,289.6 L1229.4,289.6 L1229.3,289.8 L1229.2,289.9 L1229.1,290.0 L1229.0,290.1 L1229.0,290.3 L1228.9,290.4 L1228.9,290.6 L1228.8,290.7 L1228.8,290.9 L1228.8,291.0 L1229.6,300.2 L1229.6,300.4 L1229.7,300.5 L1229.7,300.6 L1229.8,300.8 L1229.8,300.9 L1229.9,301.0 L1230.0,301.2 L1230.1,301.3 L1230.2,301.4 L1230.4,301.4 L1230.5,301.5 L1238.4,305.4Z" fill="#fff" stroke="#333" stroke-width="1.3"/>
<path d="M1265.9,281.0 L1265.8,281.0 L1265.6,280.9 L1265.5,280.9 L1265.3,280.8 L1265.2,280.8 L1265.0,280.8 L1264.9,280.8 L1264.7,280.8 L1264.5,280.9 L1264.4,280.9 L1264.3,281.0 L1252.2,288.1 L1252.1,288.2 L1252.0,288.3 L1251.9,288.4 L1251.8,288.5 L1251.7,288.6 L1251.6,288.8 L1251.5,288.9 L1251.5,289.1 L1251.5,289.2 L1251.4,289.4 L1251.4,289.6 L1251.9,296.9 L1251.9,297.1 L1251.9,297.2 L1252.0,297.4 L1252.0,297.5 L1252.1,297.7 L1252.2,297.8 L1252.3,297.9 L1252.5,298.0 L1252.6,298.1 L1263.1,305.0 L1263.2,305.1 L1263.4,305.2 L1263.5,305.2 L1263.7,305.3 L1263.8,305.3 L1264.0,305.3 L1264.1,305.3 L1264.3,305.3 L1264.4,305.2 L1264.6,305.2 L1264.7,305.1 L1268.7,302.9 L1268.9,302.8 L1269.0,302.7 L1269.1,302.6 L1269.2,302.5 L1269.3,302.3 L1269.4,302.2 L1269.4,302.1 L1269.5,301.9 L1269.5,301.8 L1269.6,301.6 L1269.6,301.5 L1269.5,284.2 L1269.5,284.1 L1269.5,283.9 L1269.5,283.8 L1269.4,283.6 L1269.3,283.5 L1269.3,283.3 L1269.2,283.2 L1269.1,283.1 L1268.9,283.0 L1268.8,282.9 L1265.9,281.0Z" fill="#fff" stroke="#333" stroke-width="1.3"/>
<path d="M1199.1,317.3 L1199.0,317.4 L1198.9,317.5 L1198.9,317.7 L1198.9,317.9 L1198.8,318.0 L1198.9,318.2 L1198.9,318.3 L1198.9,318.5 L1199.0,318.7 L1199.0,318.8 L1199.1,318.9 L1199.2,319.1 L1199.3,319.2 L1199.4,319.3 L1199.6,319.4 L1199.7,319.5 L1208.6,324.3 L1208.7,324.3 L1208.9,324.4 L1209.0,324.4 L1209.2,324.4 L1209.3,324.5 L1209.5,324.5 L1209.6,324.4 L1209.8,324.4 L1209.9,324.4 L1210.1,324.3 L1210.2,324.2 L1217.9,319.6 L1218.0,319.5 L1218.1,319.4 L1218.2,319.3 L1218.3,319.1 L1218.4,319.0 L1218.5,318.9 L1218.6,318.7 L1218.6,318.6 L1218.6,318.4 L1218.6,318.3 L1219.3,308.6 L1219.3,308.4 L1219.2,308.3 L1219.2,308.1 L1219.2,308.0 L1219.1,307.8 L1219.0,307.7 L1218.9,307.5 L1218.8,307.4 L1218.7,307.3 L1218.6,307.2 L1218.4,307.1 L1218.3,307.0 L1217.1,306.5 L1216.9,306.4 L1216.8,306.4 L1216.6,306.4 L1216.5,306.4 L1216.3,306.4 L1216.1,306.4 L1216.0,306.4 L1215.8,306.5 L1215.7,306.5 L1215.6,306.6 L1215.5,306.7 L1200.1,315.9 L1199.9,316.0 L1199.8,316.1 L1199.7,316.2 L1199.6,316.3 L1199.5,316.5 L1199.1,317.3Z" fill="#fff" stroke="#333" stroke-width="1.3"/>
<path d="M1232.2,323.7 L1232.3,323.7 L1232.5,323.8 L1232.7,323.8 L1232.8,323.8 L1233.0,323.8 L1233.1,323.8 L1233.3,323.7 L1233.4,323.7 L1233.6,323.6 L1233.7,323.5 L1233.8,323.4 L1233.9,323.3 L1238.9,318.1 L1239.0,318.0 L1239.1,317.9 L1239.2,317.7 L1239.2,317.6 L1239.3,317.5 L1239.3,317.3 L1239.3,317.2 L1239.3,317.0 L1239.3,316.9 L1238.6,308.6 L1238.6,308.4 L1238.5,308.2 L1238.5,308.1 L1238.4,307.9 L1238.3,307.8 L1238.2,307.7 L1238.1,307.5 L1238.0,307.4 L1237.8,307.3 L1237.7,307.3 L1229.6,303.3 L1229.4,303.2 L1229.3,303.2 L1229.1,303.1 L1229.0,303.1 L1228.8,303.1 L1228.6,303.1 L1228.5,303.2 L1228.3,303.2 L1228.2,303.3 L1228.0,303.4 L1222.0,307.0 L1221.9,307.1 L1221.8,307.2 L1221.7,307.3 L1221.6,307.4 L1221.5,307.5 L1221.4,307.7 L1221.4,307.8 L1221.3,308.0 L1221.3,308.1 L1221.3,308.3 L1220.7,317.9 L1220.7,318.0 L1220.7,318.2 L1220.7,318.3 L1220.8,318.5 L1220.8,318.6 L1220.9,318.8 L1221.0,318.9 L1221.1,319.0 L1221.2,319.1 L1221.3,319.2 L1221.4,319.3 L1221.5,319.4 L1221.7,319.5 L1232.2,323.7Z" fill="#fff" stroke="#333" stroke-width="1.3"/>
<path d="M1262.7,308.2 L1262.7,308.1 L1262.7,307.9 L1262.6,307.7 L1262.6,307.6 L1262.6,307.4 L1262.5,307.3 L1262.4,307.2 L1262.3,307.0 L1262.2,306.9 L1262.1,306.8 L1262.0,306.7 L1251.9,300.1 L1251.8,300.0 L1251.7,300.0 L1251.5,299.9 L1251.4,299.9 L1251.2,299.9 L1251.1,299.8 L1250.9,299.8 L1250.8,299.9 L1250.6,299.9 L1250.5,299.9 L1250.3,300.0 L1250.2,300.1 L1250.1,300.2 L1241.2,306.9 L1241.1,307.0 L1241.0,307.2 L1240.9,307.3 L1240.8,307.4 L1240.7,307.6 L1240.6,307.7 L1240.6,307.9 L1240.6,308.0 L1240.6,308.2 L1240.6,308.3 L1241.3,316.1 L1241.3,316.3 L1241.3,316.4 L1241.4,316.6 L1241.4,316.7 L1241.5,316.9 L1241.6,317.0 L1241.7,317.1 L1241.8,317.2 L1242.0,317.3 L1242.1,317.4 L1242.2,317.5 L1242.4,317.5 L1255.1,321.6 L1255.2,321.7 L1255.4,321.7 L1255.5,321.7 L1255.7,321.7 L1255.8,321.7 L1255.9,321.7 L1256.1,321.6 L1256.2,321.6 L1260.6,319.6 L1260.7,319.5 L1260.8,319.4 L1261.0,319.3 L1261.1,319.2 L1261.2,319.1 L1261.3,318.9 L1261.4,318.8 L1261.4,318.6 L1261.5,318.5 L1261.5,318.3 L1262.7,308.2Z" fill="#fff" stroke="#333" stroke-width="1.3"/>
<path d="M1265.5,307.0 L1265.4,307.1 L1265.2,307.1 L1265.1,307.2 L1265.0,307.4 L1264.9,307.5 L1264.9,307.6 L1264.8,307.7 L1264.7,307.9 L1264.7,308.0 L1264.7,308.2 L1263.5,318.5 L1263.5,318.6 L1263.5,318.8 L1263.5,318.9 L1263.5,319.1 L1263.6,319.2 L1263.6,319.4 L1263.7,319.5 L1263.8,319.6 L1263.9,319.8 L1264.0,319.9 L1264.1,320.0 L1267.1,322.0 L1267.2,322.1 L1267.3,322.2 L1267.5,322.3 L1267.6,322.3 L1267.8,322.3 L1268.0,322.3 L1268.1,322.3 L1268.3,322.3 L1268.4,322.3 L1268.6,322.2 L1268.7,322.2 L1268.9,322.1 L1269.0,322.0 L1269.1,321.9 L1269.2,321.8 L1269.3,321.6 L1269.4,321.5 L1269.5,321.4 L1269.5,321.2 L1269.6,321.1 L1269.6,320.9 L1269.6,320.7 L1269.6,307.4 L1269.6,307.3 L1269.5,307.1 L1269.5,306.9 L1269.4,306.8 L1269.4,306.7 L1269.3,306.5 L1269.2,306.4 L1269.1,306.3 L1269.0,306.2 L1268.8,306.1 L1268.7,306.0 L1268.6,305.9 L1268.4,305.9 L1268.3,305.8 L1268.1,305.8 L1267.9,305.8 L1267.8,305.8 L1267.6,305.9 L1267.5,305.9 L1267.3,305.9 L1267.2,306.0 L1265.5,307.0Z" fill="#fff" stroke="#333" stroke-width="1.3"/>
<path d="M1188.3,337.6 L1188.2,337.8 L1188.2,337.9 L1188.2,338.1 L1188.2,338.2 L1188.2,338.4 L1188.2,338.6 L1188.2,338.7 L1188.3,338.9 L1188.3,339.0 L1188.4,339.1 L1188.5,339.3 L1188.6,339.4 L1188.7,339.5 L1197.1,346.6 L1197.2,346.7 L1197.4,346.8 L1197.5,346.8 L1197.6,346.9 L1197.8,346.9 L1197.9,347.0 L1198.1,347.0 L1198.2,347.0 L1198.4,347.0 L1198.5,346.9 L1198.7,346.9 L1198.8,346.8 L1199.0,346.7 L1199.1,346.7 L1209.8,338.6 L1209.9,338.5 L1210.1,338.4 L1210.2,338.3 L1210.2,338.1 L1210.3,338.0 L1210.4,337.9 L1210.4,337.7 L1210.5,337.5 L1210.5,337.4 L1210.5,337.2 L1210.4,337.1 L1208.7,327.3 L1208.6,327.1 L1208.6,327.0 L1208.5,326.8 L1208.4,326.7 L1208.3,326.5 L1208.2,326.4 L1208.1,326.3 L1208.0,326.2 L1207.9,326.1 L1198.6,321.1 L1198.4,321.1 L1198.3,321.0 L1198.1,321.0 L1198.0,321.0 L1197.8,321.0 L1197.7,321.0 L1197.5,321.0 L1197.4,321.0 L1197.2,321.1 L1197.1,321.1 L1197.0,321.2 L1196.8,321.3 L1196.7,321.4 L1196.6,321.5 L1196.5,321.6 L1196.4,321.7 L1191.9,329.4 L1191.9,329.5 L1188.3,337.6Z" fill="#fff" stroke="#333" stroke-width="1.3"/>
<path d="M1232.5,327.0 L1232.5,326.8 L1232.5,326.7 L1232.5,326.5 L1232.4,326.4 L1232.3,326.3 L1232.2,326.1 L1232.2,326.0 L1232.0,325.9 L1231.9,325.8 L1231.8,325.7 L1231.7,325.6 L1231.5,325.6 L1220.4,321.1 L1220.2,321.1 L1220.1,321.0 L1219.9,321.0 L1219.7,321.0 L1219.6,321.0 L1219.4,321.0 L1219.3,321.1 L1219.1,321.2 L1219.0,321.2 L1211.5,325.8 L1211.3,325.9 L1211.2,326.0 L1211.1,326.1 L1211.0,326.2 L1210.9,326.3 L1210.9,326.5 L1210.8,326.6 L1210.8,326.8 L1210.7,327.0 L1210.7,327.1 L1210.7,327.3 L1210.7,327.4 L1212.5,337.0 L1212.5,337.1 L1212.5,337.3 L1212.6,337.4 L1212.7,337.5 L1212.8,337.7 L1212.9,337.8 L1213.0,337.9 L1213.1,338.0 L1213.2,338.1 L1213.3,338.1 L1221.5,342.1 L1221.6,342.1 L1221.8,342.2 L1221.9,342.2 L1222.1,342.2 L1222.2,342.2 L1222.4,342.2 L1222.6,342.2 L1222.7,342.1 L1222.9,342.1 L1223.0,342.0 L1232.2,336.3 L1232.3,336.2 L1232.4,336.1 L1232.5,336.0 L1232.6,335.9 L1232.7,335.8 L1232.8,335.6 L1232.9,335.5 L1232.9,335.4 L1232.9,335.2 L1232.9,335.0 L1232.9,334.9 L1232.5,327.0Z" fill="#fff" stroke="#333" stroke-width="1.3"/>
<path d="M1243.9,340.8 L1244.0,340.8 L1244.2,340.9 L1244.3,340.9 L1244.5,341.0 L1244.6,341.0 L1244.8,341.0 L1244.9,341.0 L1245.1,340.9 L1245.2,340.9 L1249.3,339.4 L1249.5,339.4 L1249.6,339.3 L1249.8,339.2 L1249.9,339.1 L1250.0,339.0 L1250.1,338.9 L1250.2,338.8 L1250.2,338.6 L1250.3,338.5 L1250.4,338.3 L1254.1,325.0 L1254.1,324.9 L1254.1,324.7 L1254.1,324.6 L1254.1,324.4 L1254.1,324.3 L1254.1,324.1 L1254.0,324.0 L1254.0,323.9 L1253.9,323.7 L1253.8,323.6 L1253.7,323.5 L1253.6,323.4 L1253.4,323.3 L1253.3,323.2 L1253.2,323.1 L1253.0,323.1 L1241.7,319.4 L1241.5,319.4 L1241.4,319.3 L1241.2,319.3 L1241.0,319.3 L1240.9,319.3 L1240.7,319.4 L1240.6,319.4 L1240.4,319.5 L1240.3,319.6 L1240.1,319.7 L1240.0,319.8 L1235.0,325.1 L1234.8,325.3 L1234.8,325.4 L1234.7,325.5 L1234.6,325.7 L1234.6,325.8 L1234.5,326.0 L1234.5,326.2 L1234.5,326.3 L1234.9,334.9 L1235.0,335.1 L1235.0,335.2 L1235.0,335.4 L1235.1,335.5 L1235.2,335.7 L1235.3,335.8 L1235.4,335.9 L1235.5,336.0 L1235.6,336.1 L1235.8,336.2 L1243.9,340.8Z" fill="#fff" stroke="#333" stroke-width="1.3"/>
<path d="M1268.9,326.5 L1268.9,326.4 L1268.9,326.2 L1268.8,326.1 L1268.7,325.9 L1268.7,325.8 L1268.6,325.7 L1268.5,325.6 L1268.4,325.5 L1268.3,325.4 L1263.0,321.6 L1262.8,321.5 L1262.7,321.4 L1262.6,321.4 L1262.4,321.3 L1262.3,321.3 L1262.1,321.3 L1262.0,321.3 L1261.8,321.3 L1261.6,321.3 L1261.5,321.4 L1261.4,321.4 L1257.2,323.3 L1257.1,323.4 L1257.0,323.5 L1256.8,323.6 L1256.7,323.7 L1256.6,323.8 L1256.5,323.9 L1256.5,324.0 L1256.4,324.2 L1256.4,324.3 L1252.5,338.0 L1252.5,338.2 L1252.5,338.3 L1252.5,338.5 L1252.5,338.7 L1252.5,338.8 L1252.6,339.0 L1252.6,339.1 L1252.7,339.3 L1252.8,339.4 L1252.9,339.5 L1253.0,339.6 L1253.1,339.7 L1253.3,339.8 L1253.4,339.9 L1262.0,343.8 L1262.1,343.8 L1262.3,343.9 L1262.4,343.9 L1262.6,343.9 L1262.7,343.9 L1262.9,343.9 L1263.0,343.9 L1263.2,343.8 L1263.3,343.8 L1263.5,343.7 L1263.6,343.6 L1268.9,339.8 L1269.1,339.7 L1269.2,339.6 L1269.3,339.5 L1269.4,339.4 L1269.4,339.2 L1269.5,339.1 L1269.5,339.0 L1269.6,338.8 L1269.6,338.7 L1269.6,338.5 L1269.6,333.4 L1269.6,333.2 L1268.9,326.5Z" fill="#fff" stroke="#333" stroke-width="1.3"/>
<path d="M1188.6,342.0 L1188.5,341.9 L1188.4,341.8 L1188.2,341.8 L1188.1,341.7 L1187.9,341.7 L1187.8,341.6 L1187.6,341.6 L1187.4,341.6 L1187.3,341.7 L1187.1,341.7 L1187.0,341.7 L1186.8,341.8 L1186.7,341.9 L1186.6,342.0 L1186.5,342.1 L1186.4,342.2 L1186.3,342.3 L1186.2,342.5 L1186.1,342.6 L1183.3,349.0 L1183.2,349.2 L1183.2,349.3 L1183.2,349.5 L1182.4,360.1 L1182.4,360.3 L1182.4,360.4 L1182.4,360.6 L1182.4,360.7 L1182.5,360.9 L1182.6,361.0 L1182.7,361.1 L1182.8,361.3 L1182.9,361.4 L1183.0,361.5 L1183.1,361.6 L1183.3,361.6 L1183.4,361.7 L1183.6,361.8 L1183.7,361.8 L1188.0,362.5 L1188.2,362.5 L1188.4,362.5 L1188.5,362.5 L1188.7,362.4 L1188.8,362.4 L1189.0,362.3 L1189.1,362.3 L1189.2,362.2 L1196.6,356.6 L1196.7,356.5 L1196.8,356.4 L1196.9,356.3 L1197.0,356.2 L1197.0,356.0 L1197.1,355.9 L1197.1,355.7 L1197.2,355.6 L1197.2,355.4 L1197.2,355.3 L1197.1,349.9 L1197.1,349.7 L1197.0,349.6 L1197.0,349.4 L1196.9,349.3 L1196.9,349.2 L1196.8,349.0 L1196.7,348.9 L1196.6,348.8 L1196.5,348.7 L1188.6,342.0Z" fill="#fff" stroke="#333" stroke-width="1.3"/>
<path d="M1199.1,351.4 L1199.1,351.6 L1199.1,351.7 L1199.2,351.9 L1199.2,352.0 L1199.3,352.2 L1199.4,352.3 L1199.5,352.4 L1199.6,352.5 L1199.7,352.6 L1199.8,352.7 L1200.0,352.8 L1200.1,352.9 L1200.2,352.9 L1200.4,353.0 L1200.6,353.0 L1200.7,353.0 L1220.3,353.0 L1220.5,353.0 L1220.6,353.0 L1220.8,352.9 L1220.9,352.9 L1221.1,352.8 L1221.2,352.7 L1221.3,352.6 L1221.5,352.5 L1221.6,352.4 L1221.7,352.3 L1221.7,352.2 L1221.8,352.0 L1221.9,351.9 L1221.9,351.7 L1221.9,351.6 L1221.9,351.4 L1221.9,351.3 L1221.4,345.2 L1221.4,345.0 L1221.4,344.9 L1221.3,344.7 L1221.3,344.6 L1221.2,344.4 L1221.1,344.3 L1221.0,344.2 L1220.9,344.1 L1220.8,344.0 L1220.7,343.9 L1220.5,343.9 L1212.7,340.0 L1212.5,340.0 L1212.4,339.9 L1212.2,339.9 L1212.1,339.9 L1211.9,339.9 L1211.8,339.9 L1211.6,339.9 L1211.5,340.0 L1211.3,340.0 L1211.2,340.1 L1211.0,340.2 L1199.7,348.7 L1199.6,348.8 L1199.5,348.9 L1199.4,349.0 L1199.3,349.1 L1199.2,349.3 L1199.2,349.4 L1199.1,349.6 L1199.1,349.7 L1199.1,349.9 L1199.1,350.0 L1199.1,351.4Z" fill="#fff" stroke="#333" stroke-width="1.3"/>
<path d="M1224.2,343.6 L1224.1,343.7 L1223.9,343.8 L1223.8,343.9 L1223.7,344.0 L1223.6,344.2 L1223.6,344.3 L1223.5,344.5 L1223.5,344.6 L1223.4,344.8 L1223.4,344.9 L1223.4,345.1 L1224.0,351.5 L1224.0,351.7 L1224.0,351.8 L1224.1,352.0 L1224.1,352.1 L1224.2,352.3 L1224.3,352.4 L1224.4,352.5 L1224.5,352.6 L1224.7,352.7 L1224.8,352.8 L1224.9,352.9 L1225.1,352.9 L1225.2,353.0 L1225.4,353.0 L1225.6,353.0 L1240.9,353.0 L1241.0,353.0 L1241.2,353.0 L1241.3,352.9 L1241.5,352.9 L1241.6,352.8 L1241.8,352.7 L1241.9,352.6 L1242.0,352.5 L1242.1,352.4 L1242.2,352.3 L1242.3,352.2 L1242.4,352.0 L1242.4,351.9 L1242.5,351.7 L1242.5,351.6 L1243.3,343.8 L1243.3,343.7 L1243.3,343.5 L1243.2,343.4 L1243.2,343.2 L1243.2,343.1 L1243.1,342.9 L1243.0,342.8 L1242.9,342.7 L1242.8,342.5 L1242.7,342.4 L1242.6,342.3 L1242.5,342.3 L1234.9,338.0 L1234.7,337.9 L1234.6,337.9 L1234.4,337.8 L1234.3,337.8 L1234.1,337.8 L1234.0,337.8 L1233.8,337.8 L1233.7,337.8 L1233.5,337.9 L1233.4,338.0 L1233.2,338.0 L1224.2,343.6Z" fill="#fff" stroke="#333" stroke-width="1.3"/>
<path d="M1262.0,346.9 L1262.0,346.8 L1262.0,346.6 L1261.9,346.5 L1261.9,346.3 L1261.8,346.2 L1261.7,346.0 L1261.6,345.9 L1261.5,345.8 L1261.4,345.7 L1261.2,345.6 L1261.1,345.5 L1251.5,341.2 L1251.4,341.2 L1251.2,341.1 L1251.1,341.1 L1250.9,341.1 L1250.8,341.1 L1250.6,341.1 L1250.5,341.2 L1250.3,341.2 L1246.3,342.6 L1246.2,342.7 L1246.0,342.8 L1245.9,342.8 L1245.8,343.0 L1245.6,343.1 L1245.5,343.2 L1245.5,343.3 L1245.4,343.5 L1245.3,343.6 L1245.3,343.8 L1245.3,344.0 L1244.5,351.2 L1244.5,351.4 L1244.5,351.6 L1244.5,351.7 L1244.6,351.9 L1244.6,352.0 L1244.7,352.2 L1244.8,352.3 L1244.9,352.4 L1245.0,352.5 L1245.1,352.6 L1245.2,352.7 L1245.4,352.8 L1245.5,352.9 L1245.6,352.9 L1245.8,353.0 L1246.0,353.0 L1246.1,353.0 L1260.6,353.0 L1260.8,353.0 L1261.0,353.0 L1261.1,352.9 L1261.3,352.9 L1261.4,352.8 L1261.6,352.7 L1261.7,352.6 L1261.8,352.5 L1261.9,352.4 L1262.0,352.2 L1262.1,352.1 L1262.1,352.0 L1262.2,351.8 L1262.2,351.6 L1262.2,351.5 L1262.2,351.3 L1262.0,346.9Z" fill="#fff" stroke="#333" stroke-width="1.3"/>
<path d="M1264.3,351.5 L1264.3,351.6 L1264.3,351.8 L1264.3,351.9 L1264.4,352.1 L1264.5,352.2 L1264.5,352.3 L1264.6,352.4 L1264.7,352.6 L1264.9,352.7 L1265.0,352.7 L1265.1,352.8 L1265.3,352.9 L1265.4,352.9 L1265.5,353.0 L1265.7,353.0 L1265.9,353.0 L1268.0,353.0 L1268.2,353.0 L1268.3,353.0 L1268.5,352.9 L1268.6,352.9 L1268.8,352.8 L1268.9,352.7 L1269.0,352.6 L1269.2,352.5 L1269.3,352.4 L1269.4,352.3 L1269.4,352.2 L1269.5,352.0 L1269.6,351.9 L1269.6,351.7 L1269.6,351.6 L1269.6,351.4 L1269.6,344.9 L1269.6,344.7 L1269.6,344.6 L1269.6,344.4 L1269.5,344.3 L1269.4,344.1 L1269.3,344.0 L1269.2,343.9 L1269.1,343.7 L1269.0,343.6 L1268.9,343.5 L1268.8,343.5 L1268.6,343.4 L1268.5,343.3 L1268.3,343.3 L1268.1,343.3 L1268.0,343.3 L1267.8,343.3 L1267.7,343.3 L1267.5,343.4 L1267.4,343.4 L1267.2,343.5 L1267.1,343.6 L1264.7,345.3 L1264.6,345.4 L1264.5,345.5 L1264.3,345.6 L1264.3,345.7 L1264.2,345.9 L1264.1,346.0 L1264.1,346.2 L1264.0,346.3 L1264.0,346.5 L1264.0,346.7 L1264.3,351.5Z" fill="#fff" stroke="#333" stroke-width="1.3"/>
<path d="M1184.0,363.9 L1183.9,363.8 L1183.7,363.8 L1183.6,363.9 L1183.4,363.9 L1183.3,363.9 L1183.1,364.0 L1183.0,364.1 L1182.8,364.2 L1182.7,364.3 L1182.6,364.4 L1182.5,364.5 L1182.4,364.6 L1182.3,364.7 L1182.3,364.9 L1182.2,365.0 L1182.2,365.2 L1182.2,365.4 L1182.2,365.5 L1182.2,365.7 L1182.2,365.8 L1185.1,377.8 L1185.2,378.0 L1185.2,378.1 L1185.3,378.3 L1185.4,378.4 L1185.5,378.5 L1185.6,378.6 L1185.7,378.7 L1185.8,378.8 L1185.9,378.9 L1186.1,378.9 L1186.2,379.0 L1186.4,379.0 L1186.5,379.1 L1186.7,379.1 L1186.8,379.1 L1187.0,379.0 L1188.2,378.8 L1188.3,378.7 L1188.5,378.7 L1188.6,378.6 L1188.8,378.5 L1188.9,378.4 L1189.0,378.3 L1189.1,378.2 L1189.2,378.1 L1189.3,378.0 L1189.3,377.8 L1189.4,377.7 L1189.4,377.5 L1189.5,377.4 L1189.5,377.2 L1189.5,377.0 L1188.2,365.7 L1188.2,365.6 L1188.1,365.4 L1188.1,365.3 L1188.0,365.1 L1187.9,365.0 L1187.8,364.8 L1187.7,364.7 L1187.6,364.6 L1187.5,364.5 L1187.3,364.5 L1187.2,364.4 L1187.0,364.3 L1186.9,364.3 L1184.0,363.9Z" fill="#fff" stroke="#333" stroke-width="1.3"/>
<path d="M1190.7,363.5 L1190.6,363.6 L1190.5,363.7 L1190.4,363.9 L1190.3,364.0 L1190.3,364.1 L1190.2,364.2 L1190.2,364.4 L1190.1,364.5 L1190.1,364.7 L1190.1,364.8 L1190.1,365.0 L1191.6,378.1 L1191.6,378.3 L1191.6,378.4 L1191.7,378.6 L1191.8,378.7 L1191.8,378.9 L1191.9,379.0 L1192.0,379.1 L1192.2,379.2 L1194.2,380.9 L1194.3,380.9 L1194.4,381.0 L1194.6,381.1 L1194.7,381.2 L1194.9,381.2 L1195.0,381.2 L1195.2,381.2 L1195.3,381.2 L1195.5,381.2 L1195.6,381.2 L1195.8,381.1 L1195.9,381.0 L1199.0,379.5 L1199.1,379.4 L1199.2,379.3 L1199.3,379.2 L1199.4,379.1 L1199.5,379.0 L1199.6,378.9 L1199.7,378.7 L1199.7,378.6 L1199.8,378.4 L1199.8,378.3 L1199.8,378.1 L1199.8,378.0 L1199.8,377.8 L1199.8,377.7 L1199.7,377.5 L1199.7,377.4 L1199.6,377.2 L1199.5,377.1 L1199.4,377.0 L1199.3,376.9 L1199.2,376.8 L1199.1,376.7 L1198.9,376.6 L1198.9,376.6 L1198.8,376.5 L1198.7,376.4 L1198.7,376.4 L1198.6,376.3 L1198.6,376.2 L1198.5,376.1 L1198.5,376.0 L1198.5,375.9 L1198.5,375.8 L1198.5,360.9 L1198.5,360.7 L1198.5,360.6 L1198.4,360.4 L1198.4,360.3 L1198.3,360.1 L1198.2,360.0 L1198.1,359.9 L1198.0,359.8 L1197.9,359.6 L1197.8,359.6 L1197.7,359.5 L1197.5,359.4 L1197.4,359.4 L1197.2,359.3 L1197.1,359.3 L1196.9,359.3 L1196.8,359.3 L1196.6,359.3 L1196.5,359.3 L1196.3,359.4 L1196.2,359.4 L1196.1,359.5 L1195.9,359.6 L1190.7,363.5Z" fill="#fff" stroke="#333" stroke-width="1.3"/>
<path d="M1215.4,376.8 L1215.2,376.8 L1215.1,376.8 L1214.9,376.9 L1214.8,376.9 L1214.6,377.0 L1214.5,377.1 L1214.4,377.2 L1214.2,377.3 L1214.1,377.4 L1214.0,377.5 L1214.0,377.7 L1213.9,377.8 L1213.8,378.0 L1213.8,378.1 L1213.8,378.3 L1213.8,378.4 L1213.8,378.6 L1213.8,378.7 L1213.9,378.9 L1213.9,379.0 L1214.0,379.2 L1214.1,379.3 L1214.2,379.4 L1214.3,379.6 L1214.4,379.7 L1214.5,379.7 L1217.0,381.4 L1217.2,381.4 L1217.3,381.5 L1217.5,381.6 L1217.6,381.6 L1217.8,381.6 L1217.9,381.6 L1218.1,381.6 L1218.2,381.6 L1218.4,381.5 L1218.5,381.5 L1218.7,381.4 L1221.7,379.8 L1221.8,379.7 L1221.9,379.6 L1222.0,379.5 L1222.1,379.4 L1222.2,379.3 L1222.3,379.2 L1222.4,379.0 L1222.4,378.9 L1222.5,378.7 L1222.5,378.6 L1222.5,378.4 L1222.5,378.2 L1222.5,378.1 L1222.4,377.9 L1222.4,377.8 L1222.3,377.6 L1222.2,377.5 L1222.1,377.4 L1222.0,377.3 L1221.9,377.2 L1221.8,377.1 L1221.7,377.0 L1221.5,376.9 L1221.4,376.9 L1221.2,376.8 L1221.1,376.8 L1220.9,376.8 L1215.4,376.8Z" fill="#fff" stroke="#333" stroke-width="1.3"/>
<path d="M1234.1,376.8 L1234.0,376.8 L1233.8,376.8 L1233.7,376.9 L1233.5,376.9 L1233.4,377.0 L1233.3,377.1 L1233.1,377.1 L1233.0,377.3 L1232.9,377.4 L1232.8,377.5 L1232.8,377.6 L1232.7,377.8 L1232.6,377.9 L1232.6,378.0 L1232.6,378.2 L1232.5,378.3 L1232.5,378.5 L1232.6,378.7 L1232.6,378.8 L1232.6,379.0 L1232.7,379.1 L1232.8,379.2 L1232.9,379.4 L1233.0,379.5 L1233.1,379.6 L1235.9,382.2 L1236.1,382.3 L1236.2,382.4 L1236.3,382.4 L1236.5,382.5 L1236.6,382.5 L1236.8,382.6 L1236.9,382.6 L1237.1,382.6 L1237.2,382.6 L1237.4,382.6 L1237.5,382.5 L1237.6,382.5 L1243.8,379.9 L1243.9,379.8 L1244.1,379.7 L1244.2,379.6 L1244.3,379.5 L1244.4,379.4 L1244.5,379.3 L1244.6,379.1 L1244.6,379.0 L1244.7,378.9 L1244.7,378.7 L1244.8,378.5 L1244.8,378.4 L1244.8,378.2 L1244.7,378.1 L1244.7,377.9 L1244.6,377.8 L1244.6,377.6 L1244.5,377.5 L1244.4,377.4 L1244.3,377.3 L1244.2,377.2 L1244.1,377.1 L1243.9,377.0 L1243.8,376.9 L1243.6,376.9 L1243.5,376.8 L1243.3,376.8 L1243.2,376.8 L1234.1,376.8Z" fill="#fff" stroke="#333" stroke-width="1.3"/>
<path d="M1261.0,376.8 L1260.9,376.8 L1260.7,376.8 L1260.6,376.9 L1260.4,376.9 L1260.3,377.0 L1260.2,377.1 L1260.0,377.2 L1259.9,377.3 L1259.8,377.4 L1259.7,377.5 L1259.6,377.6 L1259.6,377.8 L1259.5,377.9 L1259.5,378.1 L1259.4,378.2 L1259.4,378.4 L1259.4,378.5 L1259.5,378.7 L1259.5,378.8 L1259.5,379.0 L1259.6,379.1 L1259.7,379.2 L1259.8,379.4 L1259.9,379.5 L1260.0,379.6 L1260.8,380.3 L1260.9,380.4 L1261.1,380.5 L1261.2,380.6 L1261.4,380.7 L1261.5,380.7 L1261.7,380.7 L1261.8,380.8 L1262.0,380.7 L1262.2,380.7 L1262.3,380.7 L1265.0,379.9 L1265.1,379.9 L1265.2,379.8 L1265.4,379.7 L1265.5,379.7 L1265.6,379.5 L1265.7,379.4 L1265.8,379.3 L1265.9,379.2 L1266.0,379.0 L1266.0,378.9 L1266.1,378.7 L1266.1,378.6 L1266.1,378.4 L1266.1,378.3 L1266.1,378.1 L1266.0,377.9 L1266.0,377.8 L1265.9,377.7 L1265.8,377.5 L1265.8,377.4 L1265.6,377.3 L1265.5,377.2 L1265.4,377.1 L1265.3,377.0 L1265.1,376.9 L1265.0,376.9 L1264.8,376.8 L1264.7,376.8 L1264.5,376.8 L1261.0,376.8Z" fill="#fff" stroke="#333" stroke-width="1.3"/>
<path d="M1194.5,396.6 L1194.6,396.5 L1194.7,396.4 L1194.8,396.3 L1194.9,396.2 L1195.0,396.1 L1195.1,395.9 L1195.1,395.8 L1195.2,395.6 L1195.2,395.5 L1195.2,395.3 L1195.2,395.1 L1194.0,383.9 L1193.9,383.7 L1193.9,383.6 L1193.8,383.4 L1193.8,383.3 L1193.7,383.2 L1193.6,383.0 L1193.5,382.9 L1193.4,382.8 L1191.0,380.9 L1190.9,380.8 L1190.8,380.7 L1190.6,380.6 L1190.5,380.6 L1190.3,380.5 L1190.2,380.5 L1190.0,380.5 L1189.8,380.5 L1189.7,380.5 L1187.6,380.9 L1187.4,381.0 L1187.3,381.0 L1187.1,381.1 L1187.0,381.2 L1186.8,381.3 L1186.7,381.4 L1186.6,381.5 L1186.5,381.7 L1186.5,381.8 L1186.4,381.9 L1186.3,382.1 L1186.3,382.3 L1186.3,382.4 L1186.3,382.6 L1186.3,382.7 L1186.3,382.9 L1186.8,384.7 L1186.8,384.9 L1188.3,398.1 L1188.3,398.2 L1188.4,398.4 L1188.4,398.5 L1188.5,398.7 L1188.6,398.8 L1188.7,398.9 L1188.8,399.0 L1188.9,399.1 L1189.0,399.2 L1189.2,399.3 L1189.3,399.4 L1189.5,399.4 L1189.6,399.5 L1189.8,399.5 L1189.9,399.5 L1190.1,399.5 L1190.2,399.4 L1190.4,399.4 L1190.5,399.3 L1190.7,399.3 L1190.8,399.2 L1194.5,396.6Z" fill="#fff" stroke="#333" stroke-width="1.3"/>
<path d="M1208.0,378.0 L1207.9,377.9 L1207.8,377.8 L1207.6,377.8 L1207.5,377.8 L1207.3,377.7 L1207.2,377.7 L1207.0,377.7 L1206.9,377.8 L1206.7,377.8 L1206.6,377.8 L1206.5,377.9 L1196.9,382.8 L1196.7,382.9 L1196.6,383.0 L1196.5,383.1 L1196.4,383.2 L1196.3,383.3 L1196.2,383.5 L1196.1,383.6 L1196.1,383.8 L1196.0,383.9 L1196.0,384.1 L1196.0,384.2 L1196.0,384.4 L1197.1,394.7 L1197.2,394.9 L1197.2,395.0 L1197.3,395.2 L1197.3,395.3 L1197.4,395.5 L1197.5,395.6 L1197.6,395.7 L1197.7,395.8 L1197.9,395.9 L1198.0,396.0 L1198.1,396.0 L1198.3,396.1 L1210.2,399.6 L1210.4,399.6 L1210.5,399.6 L1210.7,399.6 L1210.8,399.6 L1211.0,399.6 L1211.1,399.5 L1211.3,399.5 L1211.4,399.4 L1211.6,399.3 L1212.8,398.5 L1212.9,398.4 L1213.0,398.3 L1213.1,398.2 L1213.2,398.1 L1213.3,398.0 L1213.4,397.8 L1213.4,397.7 L1213.5,397.5 L1216.4,384.6 L1216.4,384.4 L1216.4,384.3 L1216.4,384.1 L1216.4,383.9 L1216.4,383.8 L1216.3,383.6 L1216.3,383.5 L1216.2,383.3 L1216.1,383.2 L1216.0,383.1 L1215.8,383.0 L1215.7,382.9 L1208.0,378.0Z" fill="#fff" stroke="#333" stroke-width="1.3"/>
<path d="M1219.3,383.3 L1219.2,383.4 L1219.1,383.5 L1218.9,383.6 L1218.8,383.7 L1218.7,383.8 L1218.7,384.0 L1218.6,384.1 L1218.5,384.3 L1218.5,384.4 L1215.8,396.3 L1215.8,396.5 L1215.7,396.7 L1215.7,396.8 L1215.8,397.0 L1215.8,397.1 L1215.9,397.3 L1215.9,397.4 L1216.0,397.6 L1216.1,397.7 L1216.2,397.8 L1216.3,397.9 L1216.5,398.0 L1216.6,398.1 L1216.7,398.2 L1216.9,398.2 L1217.1,398.3 L1228.6,400.4 L1228.7,400.4 L1228.9,400.4 L1229.1,400.4 L1229.2,400.4 L1229.4,400.4 L1229.5,400.3 L1229.7,400.2 L1229.8,400.1 L1236.5,395.1 L1236.6,395.0 L1236.7,394.9 L1236.8,394.8 L1236.9,394.6 L1237.0,394.5 L1237.0,394.3 L1237.1,394.2 L1237.1,394.0 L1237.1,393.9 L1237.1,393.7 L1237.1,393.5 L1235.7,385.1 L1235.6,385.0 L1235.6,384.8 L1235.5,384.7 L1235.5,384.5 L1235.4,384.4 L1235.3,384.3 L1235.2,384.2 L1229.5,379.1 L1229.4,379.0 L1229.3,378.9 L1229.1,378.8 L1229.0,378.7 L1228.9,378.7 L1228.7,378.7 L1228.6,378.7 L1228.4,378.6 L1228.3,378.7 L1228.1,378.7 L1228.0,378.7 L1227.8,378.8 L1227.7,378.8 L1219.3,383.3Z" fill="#fff" stroke="#333" stroke-width="1.3"/>
<path d="M1239.1,393.4 L1239.1,393.6 L1239.2,393.7 L1239.2,393.9 L1239.3,394.0 L1239.4,394.1 L1239.5,394.2 L1239.6,394.3 L1239.7,394.4 L1239.9,394.5 L1240.0,394.6 L1250.4,399.3 L1250.5,399.4 L1250.7,399.4 L1250.8,399.4 L1251.0,399.4 L1251.2,399.4 L1251.3,399.4 L1251.5,399.4 L1251.6,399.3 L1251.8,399.3 L1256.9,396.5 L1257.0,396.4 L1257.2,396.3 L1257.3,396.2 L1257.4,396.1 L1257.5,396.0 L1257.5,395.9 L1257.6,395.7 L1257.7,395.6 L1257.7,395.4 L1260.0,383.3 L1260.0,383.1 L1260.0,383.0 L1260.0,382.8 L1260.0,382.7 L1259.9,382.5 L1259.8,382.3 L1259.8,382.2 L1259.7,382.1 L1259.6,381.9 L1259.5,381.8 L1255.3,378.1 L1255.2,378.0 L1255.1,378.0 L1255.0,377.9 L1254.8,377.8 L1254.7,377.8 L1254.5,377.8 L1254.4,377.7 L1254.2,377.7 L1254.1,377.7 L1253.9,377.8 L1253.8,377.8 L1253.7,377.9 L1238.8,384.2 L1238.6,384.2 L1238.5,384.3 L1238.4,384.4 L1238.3,384.5 L1238.2,384.6 L1238.1,384.7 L1238.0,384.9 L1237.9,385.0 L1237.9,385.2 L1237.8,385.3 L1237.8,385.4 L1237.8,385.6 L1237.8,385.8 L1237.8,385.9 L1239.1,393.4Z" fill="#fff" stroke="#333" stroke-width="1.3"/>
<path d="M1263.0,382.6 L1262.9,382.6 L1262.7,382.7 L1262.6,382.8 L1262.5,382.9 L1262.4,383.0 L1262.2,383.1 L1262.1,383.2 L1262.1,383.4 L1262.0,383.5 L1261.9,383.7 L1261.9,383.8 L1259.8,395.2 L1259.8,395.3 L1259.8,395.5 L1259.8,395.6 L1259.8,395.8 L1259.8,395.9 L1259.9,396.1 L1259.9,396.2 L1260.0,396.3 L1260.1,396.5 L1260.2,396.6 L1260.3,396.7 L1260.4,396.8 L1260.6,396.9 L1267.3,400.7 L1267.4,400.7 L1267.6,400.8 L1267.8,400.8 L1267.9,400.9 L1268.1,400.9 L1268.2,400.9 L1268.4,400.8 L1268.5,400.8 L1268.7,400.8 L1268.8,400.7 L1269.0,400.6 L1269.1,400.5 L1269.2,400.4 L1269.3,400.3 L1269.4,400.2 L1269.5,400.0 L1269.6,399.9 L1269.6,399.7 L1269.7,399.6 L1269.7,399.4 L1269.7,399.3 L1269.7,382.8 L1269.7,382.6 L1269.6,382.5 L1269.6,382.3 L1269.6,382.2 L1269.5,382.0 L1269.4,381.9 L1269.3,381.8 L1269.2,381.7 L1269.1,381.6 L1269.0,381.5 L1268.8,381.4 L1268.7,381.3 L1268.6,381.3 L1268.4,381.2 L1268.2,381.2 L1268.1,381.2 L1267.9,381.2 L1267.8,381.2 L1267.6,381.3 L1263.0,382.6Z" fill="#fff" stroke="#333" stroke-width="1.3"/>
<path d="M1196.1,419.9 L1196.2,420.0 L1196.3,420.1 L1196.5,420.2 L1196.6,420.3 L1196.8,420.3 L1196.9,420.4 L1197.1,420.4 L1197.3,420.4 L1197.4,420.4 L1197.6,420.3 L1197.7,420.3 L1197.9,420.2 L1209.3,414.9 L1209.4,414.8 L1209.5,414.7 L1209.6,414.6 L1209.7,414.5 L1209.8,414.4 L1209.9,414.3 L1210.0,414.1 L1210.1,414.0 L1210.1,413.8 L1210.1,413.7 L1210.2,413.6 L1210.2,413.4 L1210.1,402.8 L1210.1,402.6 L1210.1,402.5 L1210.0,402.3 L1210.0,402.2 L1209.9,402.0 L1209.8,401.9 L1209.7,401.8 L1209.6,401.7 L1209.5,401.6 L1209.4,401.5 L1209.3,401.4 L1209.1,401.3 L1209.0,401.3 L1197.2,397.9 L1197.1,397.8 L1196.9,397.8 L1196.8,397.8 L1196.6,397.8 L1196.5,397.9 L1196.3,397.9 L1196.2,397.9 L1196.0,398.0 L1195.9,398.1 L1189.7,402.4 L1189.5,402.5 L1189.4,402.6 L1189.3,402.7 L1189.2,402.9 L1189.2,403.0 L1189.1,403.2 L1189.0,403.3 L1189.0,403.5 L1189.0,403.6 L1189.0,403.8 L1189.0,403.9 L1189.3,406.2 L1189.3,406.4 L1189.3,406.5 L1189.4,406.7 L1193.9,417.6 L1193.9,417.8 L1194.0,417.9 L1194.1,418.0 L1194.2,418.2 L1196.1,419.9Z" fill="#fff" stroke="#333" stroke-width="1.3"/>
<path d="M1212.2,414.0 L1212.2,414.1 L1212.2,414.3 L1212.3,414.4 L1212.3,414.6 L1212.4,414.7 L1212.5,414.9 L1212.6,415.0 L1212.7,415.1 L1218.3,420.5 L1218.4,420.6 L1218.5,420.7 L1218.7,420.8 L1218.8,420.8 L1218.9,420.9 L1219.1,420.9 L1219.3,420.9 L1219.4,420.9 L1219.6,420.9 L1219.7,420.9 L1219.9,420.9 L1220.0,420.8 L1220.2,420.7 L1230.0,415.1 L1230.1,415.0 L1230.3,415.0 L1230.4,414.8 L1230.5,414.7 L1230.6,414.6 L1230.6,414.5 L1230.7,414.3 L1230.8,414.2 L1230.8,414.0 L1230.8,413.9 L1230.8,413.7 L1230.8,413.6 L1230.8,413.4 L1228.9,403.5 L1228.8,403.4 L1228.8,403.2 L1228.7,403.1 L1228.6,402.9 L1228.5,402.8 L1228.4,402.7 L1228.3,402.6 L1228.2,402.5 L1228.0,402.4 L1227.9,402.4 L1227.7,402.3 L1227.6,402.3 L1215.1,399.9 L1214.9,399.9 L1214.8,399.9 L1214.6,399.9 L1214.5,399.9 L1214.3,400.0 L1214.2,400.0 L1214.0,400.1 L1213.9,400.2 L1212.8,400.9 L1212.7,401.0 L1212.6,401.1 L1212.5,401.2 L1212.4,401.4 L1212.3,401.5 L1212.2,401.6 L1212.2,401.8 L1212.1,401.9 L1212.1,402.1 L1212.1,402.2 L1212.2,414.0Z" fill="#fff" stroke="#333" stroke-width="1.3"/>
<path d="M1231.4,401.4 L1231.3,401.5 L1231.2,401.6 L1231.1,401.8 L1231.0,401.9 L1230.9,402.1 L1230.8,402.2 L1230.8,402.4 L1230.8,402.5 L1230.8,402.7 L1230.8,402.8 L1230.8,403.0 L1232.8,413.5 L1232.9,413.7 L1232.9,413.8 L1233.0,414.0 L1233.1,414.1 L1233.2,414.2 L1233.3,414.3 L1233.4,414.5 L1233.5,414.5 L1233.6,414.6 L1233.8,414.7 L1239.1,417.0 L1239.2,417.0 L1239.4,417.1 L1239.5,417.1 L1239.7,417.1 L1239.9,417.1 L1240.0,417.1 L1240.2,417.0 L1240.3,417.0 L1247.3,414.0 L1247.5,413.9 L1247.6,413.9 L1247.7,413.8 L1247.9,413.6 L1248.0,413.5 L1248.1,413.4 L1248.1,413.2 L1248.2,413.1 L1248.3,412.9 L1248.3,412.8 L1249.8,402.5 L1249.9,402.4 L1249.9,402.2 L1249.8,402.1 L1249.8,401.9 L1249.8,401.8 L1249.7,401.6 L1249.6,401.5 L1249.5,401.3 L1249.4,401.2 L1249.3,401.1 L1249.2,401.0 L1249.1,400.9 L1248.9,400.8 L1239.3,396.5 L1239.2,396.4 L1239.0,396.4 L1238.9,396.4 L1238.7,396.3 L1238.6,396.3 L1238.4,396.4 L1238.3,396.4 L1238.1,396.4 L1238.0,396.5 L1237.8,396.6 L1237.7,396.7 L1231.4,401.4Z" fill="#fff" stroke="#333" stroke-width="1.3"/>
<path d="M1259.2,398.4 L1259.1,398.3 L1258.9,398.3 L1258.8,398.2 L1258.6,398.2 L1258.4,398.2 L1258.3,398.2 L1258.1,398.2 L1258.0,398.2 L1257.8,398.3 L1257.7,398.4 L1252.7,401.0 L1252.6,401.1 L1252.5,401.2 L1252.3,401.3 L1252.2,401.4 L1252.1,401.6 L1252.1,401.7 L1252.0,401.9 L1251.9,402.0 L1251.9,402.2 L1250.3,413.1 L1250.2,413.3 L1250.2,413.4 L1250.3,413.6 L1250.3,413.7 L1250.3,413.9 L1250.4,414.0 L1250.5,414.2 L1250.6,414.3 L1250.7,414.4 L1250.8,414.6 L1258.5,421.3 L1258.7,421.4 L1258.8,421.5 L1258.9,421.5 L1259.1,421.6 L1259.2,421.6 L1259.4,421.7 L1259.5,421.7 L1259.7,421.7 L1259.9,421.6 L1260.0,421.6 L1260.2,421.6 L1260.3,421.5 L1260.4,421.4 L1269.0,416.0 L1269.1,415.9 L1269.2,415.8 L1269.3,415.7 L1269.4,415.6 L1269.5,415.5 L1269.6,415.3 L1269.6,415.2 L1269.7,415.0 L1269.7,414.8 L1269.7,414.7 L1269.7,405.2 L1269.7,405.1 L1269.7,404.9 L1269.6,404.8 L1269.6,404.6 L1269.5,404.5 L1269.4,404.4 L1269.4,404.3 L1269.3,404.1 L1269.1,404.0 L1269.0,403.9 L1268.9,403.9 L1259.2,398.4Z" fill="#fff" stroke="#333" stroke-width="1.3"/>
<path d="M1208.3,437.8 L1208.4,437.9 L1208.6,437.9 L1208.7,437.9 L1208.9,437.9 L1209.1,437.9 L1209.2,437.9 L1209.4,437.9 L1209.5,437.8 L1209.7,437.7 L1209.8,437.6 L1209.9,437.5 L1217.9,430.3 L1218.0,430.2 L1218.1,430.1 L1218.2,430.0 L1218.2,429.8 L1218.3,429.7 L1218.3,429.5 L1218.4,429.4 L1218.4,429.2 L1218.4,429.1 L1218.0,423.6 L1218.0,423.5 L1218.0,423.3 L1218.0,423.2 L1217.9,423.1 L1217.8,422.9 L1217.7,422.8 L1217.7,422.7 L1217.6,422.6 L1211.8,417.0 L1211.7,416.9 L1211.5,416.8 L1211.4,416.7 L1211.2,416.7 L1211.1,416.6 L1210.9,416.6 L1210.8,416.6 L1210.6,416.6 L1210.4,416.6 L1210.3,416.6 L1210.1,416.7 L1210.0,416.7 L1198.5,422.2 L1198.3,422.2 L1198.2,422.3 L1198.1,422.4 L1198.0,422.5 L1197.9,422.6 L1197.8,422.8 L1197.7,422.9 L1197.7,423.0 L1197.6,423.2 L1197.6,423.3 L1197.6,423.5 L1197.4,425.7 L1197.4,425.8 L1197.4,426.0 L1197.4,426.1 L1197.4,426.3 L1197.5,426.4 L1200.9,434.4 L1200.9,434.5 L1201.0,434.6 L1201.1,434.8 L1201.2,434.9 L1201.3,435.0 L1201.5,435.1 L1201.6,435.2 L1201.7,435.2 L1208.3,437.8Z" fill="#fff" stroke="#333" stroke-width="1.3"/>
<path d="M1236.8,436.2 L1236.9,436.1 L1237.0,436.0 L1237.1,435.9 L1237.2,435.8 L1237.3,435.7 L1237.4,435.5 L1237.4,435.4 L1237.5,435.2 L1237.5,435.1 L1237.5,434.9 L1238.6,420.1 L1238.6,419.9 L1238.6,419.8 L1238.5,419.6 L1238.5,419.5 L1238.4,419.4 L1238.4,419.2 L1238.3,419.1 L1238.2,419.0 L1238.1,418.9 L1238.0,418.8 L1237.9,418.7 L1237.7,418.6 L1237.6,418.5 L1232.9,416.5 L1232.8,416.4 L1232.6,416.4 L1232.4,416.4 L1232.3,416.4 L1232.1,416.4 L1232.0,416.4 L1231.8,416.4 L1231.6,416.5 L1231.5,416.6 L1220.9,422.6 L1220.7,422.7 L1220.6,422.8 L1220.5,422.9 L1220.4,423.1 L1220.3,423.2 L1220.2,423.3 L1220.2,423.5 L1220.1,423.6 L1220.1,423.8 L1220.1,424.0 L1220.1,424.1 L1220.4,428.8 L1220.4,428.9 L1220.4,429.1 L1220.5,429.2 L1220.5,429.4 L1220.6,429.5 L1220.7,429.6 L1220.8,429.8 L1220.9,429.9 L1221.1,430.0 L1221.2,430.1 L1233.8,437.0 L1233.9,437.1 L1234.1,437.1 L1234.2,437.2 L1234.3,437.2 L1234.5,437.2 L1234.6,437.2 L1234.8,437.2 L1234.9,437.2 L1235.1,437.1 L1235.2,437.1 L1235.4,437.0 L1236.8,436.2Z" fill="#fff" stroke="#333" stroke-width="1.3"/>
<path d="M1254.0,437.1 L1254.2,437.1 L1254.4,437.1 L1254.5,437.1 L1254.7,437.1 L1254.8,437.0 L1255.0,436.9 L1255.1,436.9 L1255.3,436.8 L1257.3,435.0 L1257.4,434.9 L1257.5,434.8 L1257.6,434.6 L1257.7,434.5 L1257.8,434.3 L1257.8,434.2 L1257.9,434.0 L1257.9,433.8 L1258.3,424.5 L1258.3,424.4 L1258.3,424.2 L1258.2,424.0 L1258.2,423.9 L1258.1,423.7 L1258.0,423.6 L1258.0,423.5 L1257.8,423.3 L1257.7,423.2 L1249.6,416.2 L1249.5,416.1 L1249.4,416.0 L1249.2,415.9 L1249.1,415.9 L1248.9,415.8 L1248.8,415.8 L1248.6,415.8 L1248.4,415.8 L1248.3,415.8 L1248.1,415.9 L1248.0,415.9 L1241.6,418.6 L1241.4,418.7 L1241.3,418.8 L1241.1,418.9 L1241.0,419.0 L1240.9,419.1 L1240.8,419.2 L1240.8,419.4 L1240.7,419.5 L1240.6,419.7 L1240.6,419.8 L1240.6,420.0 L1239.6,433.9 L1239.6,434.1 L1239.6,434.3 L1239.6,434.4 L1239.7,434.5 L1239.7,434.7 L1239.8,434.8 L1239.9,435.0 L1240.0,435.1 L1240.1,435.2 L1240.2,435.3 L1240.3,435.4 L1240.4,435.5 L1240.6,435.5 L1240.7,435.6 L1240.9,435.6 L1241.0,435.6 L1254.0,437.1Z" fill="#fff" stroke="#333" stroke-width="1.3"/>
<path d="M1261.0,423.4 L1260.9,423.5 L1260.8,423.6 L1260.7,423.7 L1260.6,423.8 L1260.5,424.0 L1260.4,424.1 L1260.4,424.3 L1260.3,424.4 L1260.3,424.6 L1260.3,424.7 L1259.9,433.0 L1259.9,433.2 L1259.9,433.3 L1260.0,433.5 L1260.0,433.6 L1260.1,433.8 L1260.1,433.9 L1260.2,434.0 L1260.3,434.2 L1260.4,434.3 L1260.5,434.4 L1260.7,434.4 L1260.8,434.5 L1260.9,434.6 L1261.1,434.6 L1267.7,436.5 L1267.8,436.6 L1268.0,436.6 L1268.2,436.6 L1268.3,436.6 L1268.5,436.6 L1268.6,436.5 L1268.8,436.5 L1268.9,436.4 L1269.0,436.3 L1269.2,436.2 L1269.3,436.1 L1269.4,436.0 L1269.5,435.9 L1269.6,435.8 L1269.6,435.6 L1269.7,435.5 L1269.7,435.3 L1269.7,435.2 L1269.7,435.0 L1269.7,420.8 L1269.7,420.7 L1269.7,420.5 L1269.7,420.4 L1269.6,420.2 L1269.5,420.1 L1269.5,419.9 L1269.4,419.8 L1269.3,419.7 L1269.1,419.6 L1269.0,419.5 L1268.9,419.4 L1268.8,419.4 L1268.6,419.3 L1268.5,419.3 L1268.3,419.2 L1268.2,419.2 L1268.0,419.2 L1267.8,419.3 L1267.7,419.3 L1267.5,419.3 L1267.4,419.4 L1267.3,419.5 L1261.0,423.4Z" fill="#fff" stroke="#333" stroke-width="1.3"/>
<path d="M1205.7,439.0 L1205.5,438.9 L1205.4,438.9 L1205.2,438.8 L1205.1,438.8 L1204.9,438.9 L1204.7,438.9 L1204.6,438.9 L1204.5,439.0 L1204.3,439.0 L1204.2,439.1 L1204.1,439.2 L1203.9,439.3 L1203.8,439.4 L1203.7,439.6 L1203.7,439.7 L1203.6,439.9 L1203.5,440.0 L1203.5,440.2 L1203.5,440.3 L1203.5,440.5 L1203.5,440.6 L1203.5,440.8 L1205.5,449.9 L1205.5,450.1 L1205.6,450.2 L1205.6,450.4 L1205.7,450.5 L1205.8,450.6 L1205.9,450.7 L1206.0,450.8 L1206.2,450.9 L1206.3,451.0 L1206.4,451.1 L1206.6,451.1 L1206.7,451.2 L1206.9,451.2 L1207.1,451.2 L1207.2,451.2 L1207.4,451.2 L1207.5,451.1 L1207.7,451.1 L1209.1,450.5 L1209.2,450.4 L1209.3,450.3 L1209.5,450.2 L1209.6,450.1 L1209.7,450.0 L1209.8,449.9 L1209.9,449.8 L1209.9,449.6 L1210.0,449.5 L1210.0,449.3 L1210.0,449.2 L1210.0,449.0 L1210.0,448.9 L1210.0,448.7 L1208.7,441.0 L1208.6,440.8 L1208.6,440.7 L1208.5,440.5 L1208.4,440.4 L1208.3,440.2 L1208.2,440.1 L1208.1,440.0 L1208.0,439.9 L1207.8,439.8 L1207.7,439.8 L1205.7,439.0Z" fill="#fff" stroke="#333" stroke-width="1.3"/>
<path d="M1233.2,440.3 L1233.2,440.1 L1233.2,440.0 L1233.2,439.8 L1233.2,439.7 L1233.2,439.5 L1233.1,439.4 L1233.1,439.2 L1233.0,439.1 L1232.9,439.0 L1232.8,438.8 L1232.7,438.7 L1232.5,438.6 L1232.4,438.6 L1220.6,432.0 L1220.5,432.0 L1220.3,431.9 L1220.2,431.9 L1220.0,431.8 L1219.9,431.8 L1219.7,431.8 L1219.6,431.8 L1219.4,431.9 L1219.3,431.9 L1219.1,432.0 L1219.0,432.1 L1218.9,432.1 L1218.8,432.2 L1211.1,439.1 L1211.0,439.3 L1210.9,439.4 L1210.8,439.5 L1210.8,439.7 L1210.7,439.8 L1210.6,440.0 L1210.6,440.1 L1210.6,440.3 L1210.6,440.4 L1210.6,440.6 L1212.2,449.5 L1212.2,449.6 L1212.3,449.8 L1212.3,449.9 L1212.4,450.1 L1212.5,450.2 L1212.6,450.3 L1212.7,450.4 L1216.5,453.6 L1216.6,453.7 L1216.7,453.7 L1216.9,453.8 L1217.0,453.9 L1217.2,453.9 L1217.4,453.9 L1217.5,453.9 L1217.7,453.9 L1217.8,453.9 L1218.0,453.9 L1230.2,450.0 L1230.4,449.9 L1230.5,449.8 L1230.7,449.8 L1230.8,449.7 L1230.9,449.6 L1231.0,449.4 L1231.1,449.3 L1231.2,449.2 L1231.2,449.1 L1231.3,448.9 L1231.3,448.8 L1233.2,440.3Z" fill="#fff" stroke="#333" stroke-width="1.3"/>
<path d="M1253.0,451.6 L1253.1,451.6 L1253.2,451.5 L1253.4,451.4 L1253.5,451.3 L1253.6,451.2 L1253.7,451.0 L1253.8,450.9 L1253.8,450.8 L1253.9,450.6 L1253.9,450.5 L1254.0,450.3 L1254.0,450.1 L1254.0,440.6 L1254.0,440.4 L1254.0,440.3 L1254.0,440.1 L1253.9,440.0 L1253.8,439.8 L1253.8,439.7 L1253.7,439.6 L1253.6,439.4 L1253.5,439.3 L1253.3,439.2 L1253.2,439.2 L1253.1,439.1 L1252.9,439.0 L1252.8,439.0 L1252.6,439.0 L1239.2,437.5 L1239.0,437.4 L1238.9,437.4 L1238.8,437.5 L1238.6,437.5 L1238.5,437.5 L1238.3,437.6 L1238.2,437.7 L1236.1,438.9 L1235.9,439.0 L1235.8,439.1 L1235.7,439.2 L1235.6,439.3 L1235.5,439.5 L1235.4,439.6 L1235.4,439.8 L1235.3,439.9 L1233.2,449.4 L1233.2,449.5 L1233.2,449.7 L1233.2,449.8 L1233.2,450.0 L1233.3,450.1 L1233.3,450.3 L1233.4,450.4 L1233.4,450.5 L1233.5,450.7 L1233.6,450.8 L1238.4,456.2 L1238.5,456.3 L1238.6,456.4 L1238.8,456.5 L1238.9,456.6 L1239.0,456.7 L1239.2,456.7 L1239.4,456.7 L1239.5,456.8 L1239.7,456.8 L1239.9,456.7 L1240.0,456.7 L1240.2,456.7 L1253.0,451.6Z" fill="#fff" stroke="#333" stroke-width="1.3"/>
<path d="M1259.0,454.9 L1259.1,455.0 L1259.3,455.1 L1259.4,455.2 L1259.5,455.3 L1259.7,455.4 L1259.8,455.4 L1260.0,455.4 L1260.2,455.5 L1260.3,455.5 L1260.5,455.4 L1268.4,454.0 L1268.6,453.9 L1268.8,453.9 L1268.9,453.8 L1269.0,453.8 L1269.2,453.7 L1269.3,453.6 L1269.4,453.4 L1269.5,453.3 L1269.6,453.2 L1269.6,453.0 L1269.7,452.9 L1269.7,452.7 L1269.8,452.6 L1269.8,452.4 L1269.7,440.4 L1269.7,440.3 L1269.7,440.1 L1269.7,440.0 L1269.6,439.8 L1269.6,439.7 L1269.5,439.5 L1269.4,439.4 L1269.3,439.3 L1269.2,439.2 L1269.0,439.1 L1268.9,439.0 L1268.7,438.9 L1268.6,438.9 L1259.9,436.4 L1259.7,436.3 L1259.6,436.3 L1259.4,436.3 L1259.3,436.3 L1259.1,436.3 L1259.0,436.4 L1258.8,436.4 L1258.7,436.5 L1258.5,436.6 L1258.4,436.7 L1256.6,438.2 L1256.5,438.3 L1256.4,438.5 L1256.3,438.6 L1256.2,438.7 L1256.2,438.8 L1256.1,439.0 L1256.1,439.1 L1256.0,439.3 L1256.0,439.4 L1256.0,450.9 L1256.0,451.1 L1256.0,451.2 L1256.0,451.4 L1256.1,451.5 L1256.1,451.6 L1256.2,451.8 L1256.3,451.9 L1256.4,452.0 L1259.0,454.9Z" fill="#fff" stroke="#333" stroke-width="1.3"/>
<path d="M1213.3,458.0 L1213.4,458.0 L1213.5,458.1 L1213.7,458.2 L1213.8,458.2 L1214.0,458.3 L1214.1,458.3 L1214.3,458.3 L1214.4,458.3 L1214.6,458.3 L1214.7,458.3 L1214.9,458.2 L1215.0,458.1 L1215.2,458.1 L1215.3,458.0 L1215.4,457.9 L1215.5,457.8 L1215.6,457.6 L1215.7,457.5 L1215.7,457.4 L1215.8,457.2 L1215.8,457.1 L1215.9,456.9 L1215.9,456.8 L1215.9,456.5 L1215.9,456.3 L1215.9,456.2 L1215.8,456.0 L1215.8,455.8 L1215.7,455.7 L1215.6,455.6 L1215.5,455.4 L1215.4,455.3 L1215.3,455.2 L1211.9,452.4 L1211.8,452.3 L1211.7,452.2 L1211.5,452.1 L1211.4,452.1 L1211.2,452.0 L1211.1,452.0 L1210.9,452.0 L1210.8,452.0 L1210.6,452.0 L1210.4,452.1 L1210.3,452.1 L1210.0,452.2 L1209.8,452.3 L1209.7,452.4 L1209.6,452.5 L1209.5,452.6 L1209.4,452.7 L1209.3,452.8 L1209.2,453.0 L1209.1,453.1 L1209.1,453.3 L1209.0,453.4 L1209.0,453.6 L1209.0,453.7 L1209.0,453.9 L1209.0,454.0 L1209.1,454.2 L1209.1,454.3 L1209.2,454.5 L1209.3,454.6 L1209.4,454.7 L1209.5,454.9 L1209.6,455.0 L1213.3,458.0Z" fill="#fff" stroke="#333" stroke-width="1.3"/>
<path d="M1237.9,459.2 L1237.9,459.1 L1237.8,458.9 L1237.8,458.8 L1237.7,458.6 L1237.6,458.5 L1237.6,458.3 L1237.5,458.2 L1232.4,452.4 L1232.2,452.3 L1232.1,452.2 L1232.0,452.1 L1231.9,452.0 L1231.7,451.9 L1231.6,451.9 L1231.4,451.9 L1231.3,451.8 L1231.1,451.8 L1231.0,451.9 L1230.8,451.9 L1230.7,451.9 L1219.0,455.6 L1218.8,455.7 L1218.7,455.8 L1218.6,455.8 L1218.5,455.9 L1218.3,456.0 L1218.2,456.1 L1218.2,456.3 L1218.1,456.4 L1218.0,456.5 L1218.0,456.7 L1217.9,456.8 L1217.9,457.0 L1217.9,457.1 L1217.7,461.4 L1217.7,461.6 L1217.8,461.7 L1217.8,461.9 L1217.9,462.1 L1217.9,462.2 L1218.0,462.3 L1218.1,462.5 L1218.2,462.6 L1224.4,468.8 L1224.5,468.9 L1224.6,469.0 L1224.7,469.0 L1224.9,469.1 L1225.0,469.2 L1225.2,469.2 L1225.3,469.2 L1225.5,469.2 L1225.6,469.2 L1225.8,469.2 L1225.9,469.2 L1226.1,469.1 L1226.2,469.0 L1237.1,463.5 L1237.2,463.4 L1237.3,463.3 L1237.5,463.2 L1237.6,463.1 L1237.7,463.0 L1237.7,462.9 L1237.8,462.7 L1237.9,462.6 L1237.9,462.5 L1237.9,462.3 L1238.0,462.2 L1238.0,462.0 L1237.9,459.2Z" fill="#fff" stroke="#333" stroke-width="1.3"/>
<path d="M1239.9,460.9 L1239.9,461.1 L1240.0,461.2 L1240.0,461.4 L1240.1,461.5 L1240.1,461.7 L1240.2,461.8 L1240.3,461.9 L1240.4,462.0 L1240.6,462.1 L1240.7,462.2 L1240.8,462.3 L1241.0,462.3 L1241.1,462.4 L1241.3,462.4 L1241.5,462.4 L1241.6,462.4 L1241.8,462.4 L1247.3,461.5 L1247.4,461.5 L1247.6,461.5 L1247.7,461.5 L1247.8,461.5 L1256.0,463.8 L1256.2,463.8 L1256.3,463.8 L1256.5,463.8 L1256.6,463.8 L1256.8,463.8 L1257.0,463.7 L1257.1,463.7 L1257.2,463.6 L1257.4,463.5 L1257.5,463.4 L1257.6,463.3 L1257.7,463.2 L1257.8,463.1 L1257.9,462.9 L1257.9,462.8 L1258.0,462.6 L1258.0,462.5 L1258.0,462.3 L1258.2,457.7 L1258.2,457.5 L1258.2,457.4 L1258.2,457.2 L1258.1,457.1 L1258.1,456.9 L1258.0,456.8 L1257.9,456.7 L1257.8,456.6 L1255.4,453.9 L1255.3,453.8 L1255.2,453.7 L1255.0,453.6 L1254.9,453.5 L1254.8,453.5 L1254.6,453.4 L1254.4,453.4 L1254.3,453.4 L1254.1,453.4 L1254.0,453.4 L1253.8,453.5 L1253.6,453.5 L1240.9,458.5 L1240.8,458.6 L1240.6,458.6 L1240.5,458.7 L1240.4,458.8 L1240.3,458.9 L1240.2,459.1 L1240.1,459.2 L1240.0,459.3 L1240.0,459.5 L1239.9,459.6 L1239.9,459.8 L1239.9,459.9 L1239.9,460.1 L1239.9,460.9Z" fill="#fff" stroke="#333" stroke-width="1.3"/>
<path d="M1267.6,472.1 L1267.8,472.2 L1267.9,472.2 L1268.1,472.2 L1268.2,472.2 L1268.4,472.2 L1268.5,472.2 L1268.7,472.2 L1268.8,472.1 L1269.0,472.0 L1269.1,472.0 L1269.2,471.9 L1269.3,471.8 L1269.4,471.6 L1269.5,471.5 L1269.6,471.4 L1269.7,471.2 L1269.7,471.1 L1269.8,470.9 L1269.8,470.8 L1269.8,470.6 L1269.8,457.7 L1269.8,457.5 L1269.7,457.4 L1269.7,457.2 L1269.7,457.1 L1269.6,456.9 L1269.5,456.8 L1269.4,456.7 L1269.3,456.6 L1269.2,456.5 L1269.1,456.4 L1268.9,456.3 L1268.8,456.2 L1268.7,456.2 L1268.5,456.1 L1268.3,456.1 L1268.2,456.1 L1268.0,456.1 L1267.9,456.1 L1261.5,457.3 L1261.3,457.3 L1261.2,457.4 L1261.0,457.4 L1260.9,457.5 L1260.8,457.6 L1260.7,457.7 L1260.6,457.8 L1260.5,457.9 L1260.4,458.1 L1260.3,458.2 L1260.2,458.3 L1260.2,458.5 L1260.2,458.6 L1260.2,458.8 L1259.9,466.2 L1259.9,466.4 L1259.9,466.5 L1259.9,466.7 L1260.0,466.8 L1260.0,467.0 L1260.1,467.1 L1260.2,467.3 L1260.3,467.4 L1262.9,470.2 L1263.0,470.3 L1263.1,470.3 L1263.2,470.4 L1263.4,470.5 L1263.5,470.5 L1267.6,472.1Z" fill="#fff" stroke="#333" stroke-width="1.3"/>
<circle cx="1269.3" cy="261.4" r="1.5" fill="#1e1e1e"/>
<circle cx="1261.2" cy="382.0" r="1.5" fill="#1e1e1e"/>
<circle cx="1249.1" cy="414.4" r="1.5" fill="#1e1e1e"/>
<circle cx="1258.5" cy="396.8" r="1.5" fill="#1e1e1e"/>
<circle cx="1251.1" cy="400.7" r="1.5" fill="#1e1e1e"/>
<circle cx="1239.7" cy="418.3" r="1.5" fill="#1e1e1e"/>
<circle cx="1232.1" cy="415.1" r="1.5" fill="#1e1e1e"/>
<circle cx="1219.0" cy="422.6" r="1.5" fill="#1e1e1e"/>
<circle cx="1219.5" cy="430.2" r="1.5" fill="#1e1e1e"/>
<circle cx="1209.4" cy="439.4" r="1.5" fill="#1e1e1e"/>
<circle cx="1263.9" cy="267.6" r="1.5" fill="#1e1e1e"/>
<circle cx="1265.1" cy="279.3" r="1.5" fill="#1e1e1e"/>
<circle cx="1240.5" cy="268.6" r="1.5" fill="#1e1e1e"/>
<circle cx="1243.2" cy="283.1" r="1.5" fill="#1e1e1e"/>
<circle cx="1250.3" cy="288.0" r="1.5" fill="#1e1e1e"/>
<circle cx="1259.3" cy="423.3" r="1.5" fill="#1e1e1e"/>
<circle cx="1250.9" cy="298.3" r="1.5" fill="#1e1e1e"/>
<circle cx="1239.5" cy="307.0" r="1.5" fill="#1e1e1e"/>
<circle cx="1240.4" cy="317.9" r="1.5" fill="#1e1e1e"/>
<circle cx="1190.7" cy="379.3" r="1.5" fill="#1e1e1e"/>
<circle cx="1194.8" cy="382.7" r="1.5" fill="#1e1e1e"/>
<circle cx="1229.5" cy="401.6" r="1.5" fill="#1e1e1e"/>
<circle cx="1214.2" cy="398.8" r="1.5" fill="#1e1e1e"/>
<circle cx="1238.3" cy="394.9" r="1.5" fill="#1e1e1e"/>
<circle cx="1196.7" cy="421.9" r="1.5" fill="#1e1e1e"/>
<circle cx="1211.2" cy="415.1" r="1.5" fill="#1e1e1e"/>
<circle cx="1211.1" cy="400.9" r="1.5" fill="#1e1e1e"/>
<circle cx="1196.3" cy="396.6" r="1.5" fill="#1e1e1e"/>
<circle cx="1216.9" cy="455.2" r="1.5" fill="#1e1e1e"/>
<circle cx="1211.4" cy="450.6" r="1.5" fill="#1e1e1e"/>
<circle cx="1186.9" cy="339.3" r="1.5" fill="#1e1e1e"/>
<circle cx="1189.0" cy="363.6" r="1.5" fill="#1e1e1e"/>
<circle cx="1227.7" cy="289.2" r="1.5" fill="#1e1e1e"/>
<circle cx="1228.7" cy="301.8" r="1.5" fill="#1e1e1e"/>
<circle cx="1233.5" cy="325.3" r="1.5" fill="#1e1e1e"/>
<circle cx="1263.8" cy="306.7" r="1.5" fill="#1e1e1e"/>
<circle cx="1263.0" cy="345.3" r="1.5" fill="#1e1e1e"/>
<circle cx="1251.0" cy="339.9" r="1.5" fill="#1e1e1e"/>
<circle cx="1269.8" cy="325.2" r="1.5" fill="#1e1e1e"/>
<circle cx="1255.7" cy="322.9" r="1.5" fill="#1e1e1e"/>
<circle cx="1262.3" cy="319.9" r="1.5" fill="#1e1e1e"/>
<circle cx="1207.3" cy="376.3" r="1.5" fill="#1e1e1e"/>
<circle cx="1217.8" cy="383.0" r="1.5" fill="#1e1e1e"/>
<circle cx="1259.2" cy="456.7" r="1.5" fill="#1e1e1e"/>
<circle cx="1258.8" cy="435.0" r="1.5" fill="#1e1e1e"/>
<circle cx="1220.4" cy="306.8" r="1.5" fill="#1e1e1e"/>
<circle cx="1209.4" cy="325.8" r="1.5" fill="#1e1e1e"/>
<circle cx="1219.6" cy="319.7" r="1.5" fill="#1e1e1e"/>
<circle cx="1197.4" cy="319.4" r="1.5" fill="#1e1e1e"/>
<circle cx="1254.8" cy="376.3" r="1.5" fill="#1e1e1e"/>
<circle cx="1236.5" cy="384.0" r="1.5" fill="#1e1e1e"/>
<circle cx="1228.8" cy="377.1" r="1.5" fill="#1e1e1e"/>
<circle cx="1211.7" cy="338.5" r="1.5" fill="#1e1e1e"/>
<circle cx="1198.0" cy="348.7" r="1.5" fill="#1e1e1e"/>
<circle cx="1198.2" cy="356.6" r="1.5" fill="#1e1e1e"/>
<circle cx="1255.0" cy="438.2" r="1.5" fill="#1e1e1e"/>
<circle cx="1255.0" cy="451.9" r="1.5" fill="#1e1e1e"/>
<circle cx="1238.4" cy="436.4" r="1.5" fill="#1e1e1e"/>
<circle cx="1234.6" cy="438.6" r="1.5" fill="#1e1e1e"/>
<circle cx="1232.0" cy="450.4" r="1.5" fill="#1e1e1e"/>
<circle cx="1238.8" cy="458.3" r="1.5" fill="#1e1e1e"/>
<circle cx="1222.3" cy="343.6" r="1.5" fill="#1e1e1e"/>
<circle cx="1244.4" cy="342.2" r="1.5" fill="#1e1e1e"/>
<circle cx="1234.0" cy="336.4" r="1.5" fill="#1e1e1e"/>
</g>
<path d="M1270.5,252.6 L1259.8,262.2 L1251.8,264.6 L1239.8,267.4 L1234.2,277 L1221.4,286.6 L1219,294.6 L1215,305.8 L1199,315.4 L1191,329 L1182.2,349 L1181,365 L1185.8,385 L1188.3,406.7 L1195.8,425 L1202.5,440.8 L1205,452.5 L1214.2,460 L1225,470.8 L1238.3,464 L1247.5,462.5 L1256.7,465 L1270.8,480 Z" fill="none" stroke="#3a3a3a" stroke-width="1.2"/>
<rect x="1270" y="252" width="2.4" height="229" fill="#222"/>
<rect x="1199.5" y="354" width="71" height="21.8" fill="#fff" stroke="#2a2a2a" stroke-width="1.8"/>
<text x="1236" y="520" font-family="Liberation Sans" font-size="29" fill="#b84a30" stroke="#b84a30" stroke-width="0.7" text-anchor="middle" textLength="50" lengthAdjust="spacingAndGlyphs">WALL</text>
<path d="M1296,352 Q1288,352.5 1288,363.8 Q1288,375.5 1296,375.8 L1352,375.8 L1352,351.5 L1338,351.5" fill="none" stroke="#444" stroke-width="1.5"/>
<rect x="1340" y="355" width="10" height="17.5" fill="none" stroke="#888" stroke-width="0.9"/>
<rect x="1294.4" y="351" width="1.6" height="25" fill="#333"/>
<rect x="1301.6000000000001" y="351" width="1.6" height="25" fill="#333"/>
<rect x="1308.8" y="351" width="1.6" height="25" fill="#333"/>
<rect x="1316.0" y="351" width="1.6" height="25" fill="#333"/>
<rect x="1323.2" y="351" width="1.6" height="25" fill="#333"/>
<rect x="1330.4" y="351" width="1.6" height="25" fill="#333"/>
<rect x="1337.2" y="351" width="1.6" height="25" fill="#333"/>
<path d="M1302.4,353 Q1302.9,349 1306.9,348.8 M1302.4,376 L1308.2,384" fill="none" stroke="#1e1e1e" stroke-width="2"/>
<path d="M1309.6,353 Q1310.1,349 1314.1,348.8 M1309.6,376 L1315.3999999999999,384" fill="none" stroke="#1e1e1e" stroke-width="2"/>
<path d="M1316.8,353 Q1317.3,349 1321.3,348.8 M1316.8,376 L1322.6,384" fill="none" stroke="#1e1e1e" stroke-width="2"/>
<rect x="1288" y="363.8" width="52.8" height="4" fill="#222"/>
<rect x="1373.3" y="339.4" width="76" height="49.2" fill="#fff" stroke="#333" stroke-width="2"/>
<circle cx="1424" cy="365" r="3.4" fill="none" stroke="#444" stroke-width="1.3"/>
<rect x="1421.8" y="312" width="7.5" height="11.5" rx="1.5" fill="#111"/>
<rect x="1472" y="345" width="1.6" height="39" fill="#555"/>
<path d="M1492.9,365 L1497,360.5 L1568.3,359.9 L1568.3,371.5 L1497,371.5 Z" fill="#222"/>
<path d="M1501.0,369.5 L1504.0,361.5" stroke="#9a9a9a" stroke-width="1.3"/>
<path d="M1507.1,369.5 L1510.1,361.5" stroke="#9a9a9a" stroke-width="1.3"/>
<path d="M1513.2,369.5 L1516.2,361.5" stroke="#9a9a9a" stroke-width="1.3"/>
<path d="M1519.3,369.5 L1522.3,361.5" stroke="#9a9a9a" stroke-width="1.3"/>
<path d="M1525.4,369.5 L1528.4,361.5" stroke="#9a9a9a" stroke-width="1.3"/>
<path d="M1531.5,369.5 L1534.5,361.5" stroke="#9a9a9a" stroke-width="1.3"/>
<path d="M1537.6,369.5 L1540.6,361.5" stroke="#9a9a9a" stroke-width="1.3"/>
<path d="M1543.7,369.5 L1546.7,361.5" stroke="#9a9a9a" stroke-width="1.3"/>
<path d="M1549.8,369.5 L1552.8,361.5" stroke="#9a9a9a" stroke-width="1.3"/>
<path d="M1555.9,369.5 L1558.9,361.5" stroke="#9a9a9a" stroke-width="1.3"/>
<path d="M1562.0,369.5 L1565.0,361.5" stroke="#9a9a9a" stroke-width="1.3"/>
<path d="M1569.5,352 Q1574.3,351 1574.3,356 L1574.3,372 Q1574.3,377 1569.5,376.5 Z" fill="#fff" stroke="#1e1e1e" stroke-width="1.8"/>
<rect x="1601" y="346.5" width="46.8" height="37.9" rx="1.5" fill="url(#cyl)"/>
<rect x="1601" y="346.5" width="46.8" height="2" fill="#333"/>
<rect x="1601" y="382.4" width="46.8" height="2" fill="#333"/>
<path d="M1648,353.5 L1658,353.5 Q1660.8,353.5 1660.8,358 L1660.8,371.5 Q1660.8,376 1658,376 L1648,376 Z" fill="#fff" stroke="#1e1e1e" stroke-width="2"/>
<rect x="1652" y="356" width="1.6" height="18" fill="#333"/>
<rect x="1655.8" y="356" width="1.6" height="18" fill="#333"/>
<path d="M1320.6,382 L1320.6,431 L1333,447.8" fill="none" stroke="#a07a70" stroke-width="1"/>
<path d="M1401,373 L1401,431 L1415,449.3" fill="none" stroke="#a07a70" stroke-width="1"/>
<path d="M1425.7,312 L1425.7,299 L1438,282" fill="none" stroke="#a07a70" stroke-width="1"/>
<path d="M1472.7,384 L1472.7,430 L1485.3,448.7" fill="none" stroke="#a07a70" stroke-width="1"/>
<path d="M1549.1,369 L1549.1,430 L1562.3,448.7" fill="none" stroke="#a07a70" stroke-width="1"/>
<path d="M1625,384.4 L1625,430 L1638.2,448.7" fill="none" stroke="#a07a70" stroke-width="1"/>
<text x="1341.8" y="466.2" font-family="Liberation Sans" font-size="29" fill="#b84a30" stroke="#b84a30" stroke-width="0.7" text-anchor="middle" textLength="8.5" lengthAdjust="spacingAndGlyphs">1</text>
<text x="1423" y="467.7" font-family="Liberation Sans" font-size="29" fill="#b84a30" stroke="#b84a30" stroke-width="0.7" text-anchor="middle" textLength="10" lengthAdjust="spacingAndGlyphs">2</text>
<text x="1446" y="288.3" font-family="Liberation Sans" font-size="29" fill="#b84a30" stroke="#b84a30" stroke-width="0.7" text-anchor="middle" textLength="10" lengthAdjust="spacingAndGlyphs">3</text>
<text x="1492.8" y="466.3" font-family="Liberation Sans" font-size="29" fill="#b84a30" stroke="#b84a30" stroke-width="0.7" text-anchor="middle" textLength="10" lengthAdjust="spacingAndGlyphs">4</text>
<text x="1569.8" y="466.3" font-family="Liberation Sans" font-size="29" fill="#b84a30" stroke="#b84a30" stroke-width="0.7" text-anchor="middle" textLength="10" lengthAdjust="spacingAndGlyphs">5</text>
<text x="1645.4" y="467.4" font-family="Liberation Sans" font-size="29" fill="#b84a30" stroke="#b84a30" stroke-width="0.7" text-anchor="middle" textLength="10" lengthAdjust="spacingAndGlyphs">6</text>
</svg>
</body></html>
